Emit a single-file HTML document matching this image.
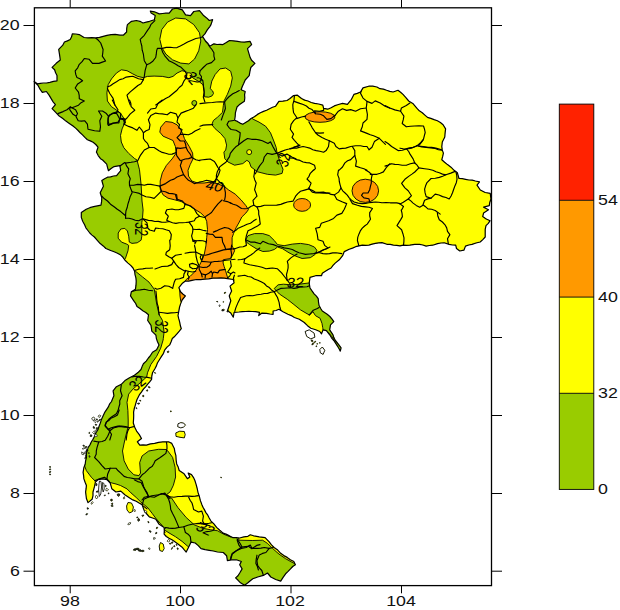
<!DOCTYPE html>
<html><head><meta charset="utf-8"><title>map</title>
<style>
html,body{margin:0;padding:0;background:#fff;}
body{width:620px;height:610px;position:relative;overflow:hidden;font-family:"Liberation Sans",sans-serif;}
.t{position:absolute;font-family:"Liberation Sans",sans-serif;font-size:14px;line-height:15px;height:15px;color:#111;transform:scaleX(1.27);white-space:nowrap;}
</style></head><body>
<svg width="620" height="610" viewBox="0 0 620 610" style="position:absolute;left:0;top:0"><defs><clipPath id="c"><path d="M34.1,81.6 L37.4,83.8 L46.4,83.0 L57.0,80.8 L57.0,75.6 L54.6,69.8 L52.1,67.4 L56.2,63.3 L60.3,60.0 L59.5,54.3 L58.7,49.3 L62.8,45.2 L64.4,42.0 L70.2,39.5 L72.3,33.8 L79.2,34.6 L84.1,37.5 L95.6,37.9 L107.0,35.4 L115.2,34.3 L120.0,35.2 L123.3,35.2 L126.6,32.0 L127.4,24.6 L131.5,21.3 L136.4,20.5 L143.0,23.0 L149.5,21.3 L154.4,19.7 L155.2,15.6 L151.1,13.1 L150.3,11.1 L154.4,11.8 L159.3,13.9 L169.2,13.1 L172.5,9.0 L176.6,8.2 L182.3,9.8 L185.6,14.8 L190.5,15.6 L193.8,11.5 L199.5,10.7 L203.6,15.6 L209.3,20.5 L212.6,19.7 L211.0,24.6 L209.8,26.6 L204.9,33.9 L202.5,36.4 L205.7,41.3 L209.8,46.2 L213.9,43.8 L223.0,44.6 L229.5,40.5 L237.7,41.3 L244.3,42.1 L250.0,41.3 L251.6,44.6 L247.5,48.7 L249.2,54.4 L251.6,60.2 L254.9,63.4 L250.8,67.5 L249.2,75.7 L245.2,80.0 L241.1,89.8 L245.2,91.5 L244.4,101.3 L237.0,107.0 L235.4,112.8 L234.6,120.2 L242.8,124.3 L251.0,118.5 L257.5,114.4 L266.6,110.3 L275.6,106.2 L278.9,101.3 L287.0,100.5 L290.0,98.5 L293.3,95.7 L297.4,95.2 L301.5,98.5 L308.0,101.0 L314.6,103.4 L322.8,105.1 L323.6,108.4 L327.7,109.2 L334.3,105.9 L342.5,103.4 L347.4,104.3 L351.5,99.3 L353.9,94.4 L360.5,92.0 L363.0,87.9 L368.7,86.2 L376.9,87.0 L380.0,88.7 L386.6,90.3 L393.1,92.0 L398.0,90.3 L403.0,94.4 L408.7,101.0 L412.8,103.4 L419.3,110.8 L427.5,117.4 L437.4,120.7 L443.1,124.8 L445.6,128.9 L444.8,137.0 L442.3,142.0 L441.8,146.6 L443.4,153.1 L441.8,159.7 L447.5,164.6 L454.1,170.3 L457.4,172.8 L459.0,178.5 L465.6,179.3 L475.4,181.0 L479.5,181.8 L477.0,185.1 L480.3,190.0 L485.2,192.5 L490.2,193.3 L491.0,199.0 L489.3,205.6 L483.6,207.2 L488.5,209.7 L483.6,213.0 L482.7,216.6 L490.1,220.7 L486.0,225.6 L485.2,233.0 L485.2,237.0 L480.2,242.0 L472.0,244.4 L465.5,246.1 L463.9,250.2 L459.8,251.0 L456.5,248.5 L455.7,245.2 L449.1,244.4 L444.2,242.8 L437.6,243.6 L432.7,245.2 L426.1,246.1 L419.6,244.4 L414.7,244.4 L409.8,245.2 L403.2,245.2 L400.0,245.9 L393.4,245.1 L386.9,244.3 L382.0,242.6 L375.4,243.4 L368.9,245.1 L362.3,245.1 L355.7,246.7 L349.2,249.2 L344.3,251.6 L342.6,255.7 L339.3,259.8 L335.2,263.1 L331.1,268.0 L325.4,271.3 L322.3,273.3 L321.5,275.7 L315.7,275.7 L310.0,277.4 L309.2,283.1 L310.0,288.0 L314.1,293.8 L318.2,298.7 L319.0,305.2 L322.3,311.0 L327.2,314.3 L332.1,319.2 L333.8,321.6 L330.5,324.9 L329.7,329.8 L333.0,334.8 L335.4,340.5 L338.7,344.6 L341.1,347.9 L340.3,351.1 L337.0,345.4 L333.8,340.5 L329.7,334.8 L326.4,330.7 L323.1,329.8 L321.5,333.9 L319.8,331.5 L315.7,329.8 L310.8,328.2 L307.5,325.7 L304.3,322.5 L299.3,319.2 L294.4,317.5 L287.9,314.3 L283.0,311.8 L278.9,309.3 L273.1,311.0 L273.1,314.3 L266.6,313.4 L262.0,313.1 L258.7,315.6 L259.5,312.3 L252.1,311.5 L245.6,311.5 L239.0,312.0 L234.1,312.3 L233.3,317.2 L230.8,313.1 L227.5,310.7 L229.2,305.7 L230.8,300.8 L229.2,295.9 L231.6,291.0 L230.0,286.1 L234.1,282.8 L233.3,279.5 L227.5,278.7 L221.0,277.9 L212.8,278.2 L204.6,279.2 L196.4,279.5 L192.0,280.3 L185.4,281.1 L182.1,283.6 L178.9,287.7 L180.5,291.8 L185.4,295.9 L182.1,300.0 L180.5,304.1 L178.9,310.7 L178.0,315.6 L179.7,322.1 L181.3,328.7 L177.2,333.6 L172.3,338.5 L169.7,344.9 L164.8,349.8 L161.5,356.4 L157.4,363.0 L154.9,368.7 L152.5,372.8 L151.6,379.3 L147.5,384.3 L143.4,389.2 L139.3,394.9 L136.9,399.8 L135.2,405.6 L133.6,412.1 L133.6,418.7 L133.3,423.0 L136.6,431.1 L141.5,438.5 L137.4,441.8 L139.8,445.1 L146.4,445.1 L154.6,443.4 L162.8,441.8 L168.5,441.8 L171.8,443.4 L174.3,448.4 L175.9,455.7 L176.7,463.9 L179.2,470.5 L184.1,473.8 L187.4,478.7 L189.8,477.0 L188.2,473.0 L191.5,474.6 L194.8,480.3 L197.2,488.5 L199.3,496.2 L201.8,504.4 L205.9,512.6 L210.8,520.8 L216.6,527.4 L223.1,533.1 L226.6,534.4 L233.1,537.7 L239.7,538.0 L247.9,536.3 L250.3,534.8 L253.6,535.8 L259.3,536.9 L265.1,537.7 L269.2,541.8 L274.1,547.5 L280.7,553.3 L287.2,557.4 L293.8,561.5 L295.4,564.8 L290.5,568.9 L285.6,573.8 L280.7,581.1 L275.7,579.5 L270.8,577.0 L267.5,573.0 L263.4,575.4 L257.7,577.0 L252.8,578.7 L247.9,582.8 L244.6,585.2 L240.5,582.8 L235.6,577.9 L239.7,573.0 L242.1,568.9 L239.7,564.8 L241.3,561.5 L236.4,559.8 L231.5,559.8 L227.4,560.7 L226.6,555.7 L223.3,552.5 L217.4,552.0 L209.2,550.3 L201.0,548.7 L195.2,543.0 L191.1,542.1 L188.7,547.0 L186.2,552.1 L182.1,547.2 L175.6,542.3 L169.0,538.2 L164.1,534.1 L164.1,527.5 L159.2,524.3 L155.9,519.3 L149.3,516.9 L144.4,511.1 L142.0,504.6 L136.2,501.3 L129.7,498.0 L124.8,494.8 L120.8,491.1 L115.9,492.0 L111.8,488.7 L110.2,483.0 L106.9,479.7 L102.8,478.9 L97.9,479.7 L95.4,482.1 L94.6,486.2 L93.0,492.0 L92.1,499.3 L88.0,502.6 L86.4,498.5 L85.6,492.0 L86.4,485.4 L83.9,478.9 L83.1,472.3 L83.9,467.4 L85.6,460.8 L86.4,454.3 L88.0,447.7 L91.3,442.0 L94.6,436.2 L97.9,429.7 L100.3,423.1 L102.8,416.6 L104.9,412.1 L108.2,407.2 L111.5,401.5 L113.9,395.7 L113.1,390.8 L116.4,386.7 L121.3,384.3 L125.4,380.2 L129.5,377.7 L134.4,375.2 L141.0,369.5 L143.4,363.8 L148.4,358.0 L152.5,352.3 L156.6,349.8 L159.0,344.9 L157.5,341.8 L155.9,335.2 L151.8,331.1 L151.0,325.4 L147.7,320.5 L148.5,314.8 L142.8,310.7 L137.0,306.6 L133.8,300.8 L130.5,295.9 L131.3,291.8 L135.4,289.3 L136.2,281.1 L134.6,271.3 L133.0,268.0 L128.0,263.1 L124.8,260.0 L120.7,255.1 L114.1,251.8 L105.9,248.5 L100.2,243.6 L94.4,237.0 L87.9,230.5 L84.6,224.8 L81.3,217.4 L81.3,212.5 L86.2,209.2 L93.6,206.7 L101.0,205.1 L101.8,197.7 L100.2,192.8 L103.4,186.2 L101.8,180.5 L107.5,177.2 L116.6,175.6 L120.7,170.7 L119.8,165.7 L114.1,166.6 L108.4,170.7 L106.7,164.1 L102.6,160.0 L100.5,158.7 L96.4,152.1 L98.0,147.2 L93.1,142.3 L87.4,139.8 L82.5,134.9 L75.9,128.4 L69.3,123.4 L62.8,118.5 L56.2,112.8 L52.1,108.7 L55.4,104.6 L51.3,98.9 L46.4,91.5 L42.3,92.3 L38.2,85.7ZM305.1,331.5 L309.2,329.8 L314.1,333.1 L314.9,337.2 L310.8,338.9 L306.7,336.4ZM319.8,349.5 L322.3,347.0 L324.8,350.3 L323.1,354.4 L320.3,352.8ZM313.1,341.3 L312.0,341.5 L311.0,340.9 L311.3,340.1 L311.9,339.7 L312.6,340.3ZM314.5,342.8 L314.5,341.8 L315.1,341.3 L315.8,341.3 L315.3,342.2ZM317.2,344.4 L316.8,343.8 L317.3,343.2 L317.6,343.8ZM311.8,344.9 L312.2,343.6 L313.3,342.6 L313.7,343.7 L313.1,344.6ZM319.9,343.5 L319.5,342.7 L319.8,342.2 L320.2,342.6ZM316.8,346.6 L316.1,346.7 L315.8,346.1 L316.5,345.7ZM185.5,425.2 L183.5,427.1 L180.8,427.9 L177.7,426.7 L178.0,423.8 L180.8,422.6 L183.7,423.1ZM185.2,434.7 L184.3,437.9 L180.0,437.3 L176.0,436.4 L175.8,432.9 L179.7,431.2 L184.3,431.5ZM170.6,411.7 L170.0,411.4 L170.6,410.9 L171.0,410.8 L171.5,411.2 L171.1,411.7ZM221.6,477.9 L220.9,477.7 L220.5,477.1 L221.3,477.2ZM160.5,542.5 L163.2,544.0 L164.2,548.5 L162.5,551.5 L159.8,550.5 L159.2,546.0ZM128.0,502.5 L131.5,503.0 L133.4,507.0 L132.5,511.5 L129.5,513.0 L127.0,510.0 L126.6,506.0ZM136.5,549.5 L135.6,550.5 L133.3,550.2 L133.8,549.0 L135.5,548.6ZM139.4,549.0 L138.0,549.9 L136.2,549.5 L136.0,548.4 L138.1,548.0ZM141.5,550.5 L140.6,551.5 L138.5,551.1 L138.4,549.9 L140.5,549.6ZM144.3,551.0 L143.0,551.8 L141.3,551.5 L141.3,550.5 L143.1,550.0ZM225.3,293.2 L224.3,293.6 L224.4,292.6 L225.0,292.1 L225.8,292.4ZM218.1,301.9 L217.0,302.0 L216.5,301.5 L217.2,301.3ZM223.1,302.4 L222.9,301.8 L223.4,301.5 L223.7,301.7 L223.6,302.1ZM220.2,306.0 L219.6,306.6 L219.0,306.1 L219.0,305.1 L220.0,304.9ZM223.6,310.9 L221.9,311.0 L221.9,309.7 L223.4,309.2 L224.5,309.7ZM228.4,311.7 L227.9,312.1 L227.2,312.0 L226.8,311.3 L227.5,310.8 L228.6,310.7ZM49.6,467.3 L49.5,466.6 L50.4,466.6 L50.9,466.9 L50.1,467.6ZM49.6,469.9 L49.5,469.1 L50.3,468.7 L50.7,469.5 L50.3,469.9ZM49.7,472.7 L49.3,471.9 L50.1,471.3 L50.8,471.5 L50.4,472.4ZM49.5,474.7 L49.8,473.8 L50.7,474.3 L50.3,475.0ZM92.0,419.6 L91.8,418.0 L93.9,416.9 L95.1,419.0 L93.3,420.4ZM96.1,421.5 L95.4,422.8 L94.1,421.5 L93.6,420.1 L95.9,420.2ZM96.4,419.7 L96.3,418.9 L97.3,418.9 L97.3,420.0ZM97.4,422.3 L97.3,421.0 L98.5,420.6 L98.4,421.7ZM95.2,424.9 L95.3,424.1 L96.2,424.4 L96.9,424.6 L96.5,425.3 L95.7,425.3ZM94.3,428.6 L93.1,427.9 L93.4,426.3 L94.7,427.2ZM96.2,428.4 L96.4,427.7 L97.3,427.4 L97.7,428.0 L97.6,428.8 L96.5,429.5ZM96.3,431.6 L94.8,430.9 L95.9,429.8 L96.8,430.5ZM94.1,434.0 L92.6,432.5 L93.8,431.3 L95.1,432.3ZM95.8,436.7 L94.5,436.0 L95.2,434.2 L96.7,434.4 L97.3,436.2ZM91.7,436.5 L90.1,436.4 L90.4,434.8 L92.0,435.1ZM89.3,433.6 L88.6,432.9 L89.4,432.2 L90.0,433.0ZM100.0,417.2 L98.8,417.2 L98.1,416.2 L99.2,414.9 L100.8,415.6ZM99.1,420.9 L99.5,419.4 L100.4,419.1 L100.4,420.1ZM84.6,446.2 L83.9,446.5 L83.2,446.1 L82.8,445.4 L83.5,445.1 L84.3,445.4ZM86.3,447.4 L85.7,447.8 L85.1,447.4 L85.5,446.7 L86.1,446.0 L86.7,446.7ZM82.2,449.0 L83.1,448.0 L85.1,447.9 L83.5,449.1ZM85.8,452.5 L86.0,451.1 L86.5,449.7 L87.1,450.2 L86.9,451.7ZM83.9,453.5 L84.3,452.1 L86.0,452.0 L85.7,454.1ZM88.2,453.0 L89.1,452.6 L89.5,453.0 L89.1,453.7ZM86.7,456.4 L85.7,456.8 L85.3,455.8 L85.7,455.2 L86.6,455.5ZM83.4,454.8 L81.9,454.4 L81.6,451.9 L83.7,453.2ZM90.1,457.1 L89.3,457.3 L89.0,456.3 L89.3,455.4 L90.1,456.5ZM84.8,458.6 L84.8,457.7 L85.9,457.3 L85.6,458.3ZM87.3,448.9 L86.2,449.2 L85.8,448.4 L86.4,447.6 L87.5,447.0 L88.1,447.9ZM87.0,451.2 L87.2,450.1 L88.1,449.9 L87.9,450.8ZM99.5,481.0 L101.0,481.5 L101.5,487.0 L100.8,494.0 L99.3,496.5 L98.6,490.0 L99.0,484.0ZM102.5,482.5 L104.0,483.5 L104.2,489.0 L103.2,492.0 L102.3,488.0ZM96.7,485.7 L95.8,485.4 L95.8,484.3 L96.1,483.5 L96.9,483.7 L97.1,484.9ZM96.0,492.1 L96.9,490.9 L98.3,491.0 L97.5,492.2ZM105.6,486.7 L104.9,486.1 L105.5,485.2 L106.1,485.5 L106.2,486.2ZM107.4,490.8 L105.9,490.7 L105.9,489.4 L106.5,488.2 L107.7,488.9 L108.5,489.8ZM105.3,495.6 L104.6,495.8 L104.1,495.5 L104.6,495.0 L105.1,494.8ZM108.2,494.0 L108.1,493.2 L108.9,492.8 L109.1,493.7ZM96.5,499.0 L95.2,497.1 L96.2,495.1 L98.1,496.9ZM91.0,503.9 L91.1,503.0 L92.5,501.6 L93.2,502.4 L91.9,504.2ZM88.5,508.9 L87.3,509.2 L87.1,507.7 L88.3,508.0ZM85.8,515.0 L86.2,513.9 L86.8,513.5 L87.7,513.7 L87.0,514.8ZM112.3,500.7 L111.1,501.2 L110.6,500.3 L110.9,499.1 L112.2,499.2ZM113.3,506.0 L112.5,506.5 L111.3,506.3 L111.2,505.4 L111.7,504.7 L112.6,505.4ZM112.6,504.4 L111.9,504.2 L111.4,503.7 L111.9,503.2 L112.6,502.9 L112.7,503.7ZM127.8,524.6 L128.0,523.7 L129.1,522.8 L130.7,522.6 L130.4,524.0 L128.8,524.7ZM136.8,517.9 L136.9,516.9 L137.8,516.9 L137.9,517.8ZM138.5,521.4 L137.5,520.0 L138.7,518.2 L139.8,520.1ZM149.0,522.9 L148.0,522.5 L147.8,521.5 L148.9,521.8ZM150.8,532.4 L149.9,532.1 L149.1,531.1 L149.7,530.5 L150.4,530.8 L151.1,531.6ZM157.2,528.4 L156.4,528.7 L156.3,528.0 L156.6,527.3 L157.7,527.2 L157.6,527.9ZM155.5,533.9 L155.9,532.4 L156.9,532.4 L156.9,533.3ZM154.9,539.1 L153.5,539.3 L153.7,537.5 L155.4,537.9ZM150.1,549.1 L149.2,549.5 L148.3,548.3 L149.1,547.8 L150.0,548.3ZM145.8,512.5 L144.6,512.4 L144.5,510.9 L145.7,510.6 L146.6,511.0 L147.0,512.3ZM141.8,515.8 L142.6,514.9 L143.9,515.1 L143.5,515.9 L142.6,516.6ZM134.1,511.4 L133.8,510.5 L134.4,509.4 L135.1,509.7 L135.3,511.3ZM123.8,499.1 L123.1,498.0 L124.4,496.6 L124.8,498.4ZM118.7,496.5 L117.5,495.6 L117.1,494.2 L118.5,493.8 L119.8,494.0 L119.6,495.3ZM168.5,541.9 L167.2,541.3 L167.7,540.1 L168.5,539.5 L169.5,539.9 L169.8,541.2ZM170.3,544.2 L169.5,543.9 L169.5,543.2 L170.2,543.1 L170.7,543.2 L170.9,543.7ZM172.8,543.0 L171.9,543.4 L171.4,543.1 L171.6,542.2 L172.5,541.7 L172.9,542.1ZM174.7,546.7 L173.9,546.8 L173.6,546.0 L174.4,545.5 L175.1,546.0ZM176.9,545.7 L176.1,544.8 L176.3,544.1 L176.9,544.5ZM177.1,548.7 L177.3,547.8 L177.9,548.0 L178.4,549.1 L177.6,549.6ZM171.3,549.5 L171.6,547.9 L172.6,547.1 L172.6,548.5ZM146.9,391.2 L146.3,390.4 L147.5,389.7 L147.8,390.9ZM142.5,396.0 L142.9,395.2 L143.8,395.4 L143.8,396.0 L143.8,396.7 L142.9,396.7ZM140.8,401.2 L140.1,400.9 L139.5,400.2 L140.0,400.0 L140.7,400.4ZM138.4,404.2 L137.3,403.6 L138.2,403.0 L139.6,403.1 L139.2,404.1ZM136.8,409.1 L136.1,408.4 L136.3,407.4 L136.8,408.2ZM150.2,387.8 L148.9,387.8 L148.1,386.7 L149.5,386.7ZM154.8,373.2 L154.3,372.6 L155.1,372.5 L155.7,373.3ZM167.5,352.6 L167.2,351.6 L168.3,351.0 L169.1,351.7 L168.3,352.6Z"/></clipPath></defs><g clip-path="url(#c)" stroke="#000" stroke-width="0.9" stroke-linejoin="round"><rect x="30" y="0" width="470" height="600" fill="#99cc00" stroke="none"/><path d="M124.0,260.0 L125.4,258.5 L128.0,250.7 L128.7,245.4 L126.7,244.1 L121.5,242.1 L118.2,238.2 L118.2,233.0 L120.8,229.0 L124.8,228.4 L127.4,231.0 L128.7,236.2 L129.3,242.1 L132.0,243.4 L137.2,242.8 L141.1,240.2 L141.8,236.2 L141.8,222.5 L142.5,217.9 L143.1,210.0 L142.0,201.0 L141.1,184.6 L139.5,169.8 L137.0,160.0 L134.4,158.4 L128.7,153.4 L123.8,147.7 L121.3,142.0 L120.5,135.4 L122.1,128.9 L124.6,123.1 L123.8,118.2 L120.5,113.3 L116.4,110.0 L111.5,106.7 L107.4,101.0 L106.9,92.8 L108.2,84.6 L111.5,78.9 L116.4,73.1 L121.3,69.8 L127.0,70.7 L132.8,73.9 L137.7,76.4 L143.4,77.7 L147.5,76.4 L154.1,76.1 L162.3,76.4 L168.9,77.7 L173.0,76.4 L177.0,73.1 L182.0,70.7 L185.2,71.5 L187.3,72.6 L193.0,78.0 L199.6,82.0 L203.3,85.0 L204.1,89.4 L204.5,96.8 L208.6,97.2 L211.9,96.0 L213.5,93.5 L212.7,91.0 L210.2,88.6 L211.8,81.1 L215.1,74.6 L220.0,68.9 L225.7,68.0 L230.7,71.3 L232.3,77.9 L230.7,86.1 L227.4,94.3 L224.1,100.8 L223.3,105.7 L222.5,112.3 L217.5,117.2 L213.4,120.5 L211.8,124.6 L215.1,128.7 L220.8,133.6 L224.9,138.5 L226.6,145.1 L225.7,150.0 L223.9,152.1 L224.8,158.7 L228.0,162.0 L234.6,165.2 L242.8,163.6 L246.9,160.3 L249.3,162.0 L251.0,166.9 L257.5,171.8 L267.4,174.3 L275.6,175.1 L282.1,173.4 L283.0,169.3 L280.0,162.0 L277.0,152.5 L276.2,147.5 L273.8,141.0 L270.5,132.8 L265.6,126.2 L259.0,122.1 L252.5,118.9 L250.0,112.0 L262.0,100.0 L300.0,80.0 L460.0,80.0 L520.0,200.0 L500.0,300.0 L350.0,340.0 L350.0,360.0 L250.0,345.0 L215.0,300.0 L200.0,340.0 L230.0,420.0 L260.0,520.0 L235.0,536.0 L230.5,536.9 L223.9,534.3 L217.4,530.7 L210.8,529.8 L202.6,528.2 L194.4,524.9 L186.2,517.5 L178.0,507.7 L171.5,497.9 L166.6,494.6 L170.2,491.8 L173.4,485.2 L175.6,477.0 L175.1,467.2 L172.6,457.4 L167.7,450.8 L166.1,449.5 L158.5,449.3 L148.7,451.0 L142.1,455.9 L139.7,462.5 L140.5,473.1 L138.9,475.6 L133.9,474.8 L128.2,469.0 L124.1,460.8 L122.5,451.0 L124.9,439.5 L128.2,426.4 L128.2,420.0 L127.9,410.5 L127.0,402.3 L128.7,394.1 L132.8,389.2 L140.0,383.0 L146.7,376.9 L147.5,372.8 L150.8,364.6 L156.6,356.4 L160.7,348.2 L163.1,340.0 L163.3,338.5 L164.1,332.0 L162.5,320.5 L159.2,314.8 L156.7,304.1 L154.3,289.3 L149.0,282.1 L142.5,276.9 L135.2,271.0 L131.0,270.0Z" fill="#ffff00"/><path d="M78.0,462.0 L83.9,464.1 L86.4,470.7 L91.3,477.2 L94.6,480.5 L98.0,482.0 L98.0,506.0 L78.0,506.0Z" fill="#ffff00"/><path d="M107.0,479.0 L110.0,482.5 L116.0,484.0 L120.5,485.5 L127.0,488.9 L131.0,492.9 L136.2,497.5 L140.8,502.0 L144.1,504.7 L148.0,508.0 L152.0,513.2 L155.9,518.4 L159.8,523.0 L162.5,525.7 L160.0,532.0 L105.0,500.0Z" fill="#ffff00"/><path d="M162.0,527.0 L163.8,529.6 L169.0,532.9 L175.6,536.8 L182.1,541.4 L187.4,546.0 L190.0,548.0 L188.0,556.0 L160.0,540.0Z" fill="#ffff00"/><path d="M238.9,540.2 L252.8,540.5 L262.6,540.2 L267.5,543.4 L272.5,548.4 L279.0,554.1 L285.6,558.7 L292.1,562.3 L295.1,563.9 L300.0,562.0 L270.0,530.0 L238.0,530.0Z" fill="#ffff00"/><path d="M159.8,39.3 L161.8,29.5 L167.5,22.1 L175.7,18.0 L185.6,18.9 L193.8,24.6 L199.5,32.8 L200.8,41.0 L198.7,50.8 L194.6,59.0 L188.9,63.9 L180.7,63.1 L172.5,59.8 L165.9,54.1 L161.8,47.5Z" fill="#ffff00"/><path d="M245.6,239.7 L248.0,235.6 L254.6,233.6 L262.8,233.6 L269.3,235.6 L274.3,240.5 L277.5,244.6 L284.1,245.7 L292.3,244.1 L300.5,243.4 L308.7,244.6 L314.4,247.0 L316.9,250.3 L315.2,254.4 L310.3,257.7 L302.1,258.5 L295.6,256.1 L289.0,252.8 L282.5,248.7 L277.5,247.0 L274.3,249.5 L269.3,251.1 L262.8,251.5 L256.2,248.7 L249.7,244.6 L246.4,242.1Z" fill="#99cc00"/><path d="M274.2,288.5 L278.1,284.8 L283.4,284.2 L291.2,284.8 L299.1,284.2 L309.6,282.9 L316.0,283.0 L328.0,300.0 L340.0,318.0 L345.0,352.0 L338.0,352.0 L333.0,338.0 L328.9,333.1 L325.6,331.0 L323.4,331.4 L322.7,327.5 L322.0,323.5 L320.1,318.3 L315.5,315.7 L312.9,311.7 L309.6,315.0 L307.0,313.7 L300.4,309.8 L293.9,304.5 L287.3,299.3 L279.4,294.0Z" fill="#99cc00"/><path d="M165.6,121.5 L160.7,127.2 L159.8,132.1 L163.1,136.2 L168.9,138.7 L173.0,140.5 L175.4,146.6 L176.2,153.1 L172.1,158.9 L166.4,165.4 L162.3,172.8 L160.2,181.0 L160.2,189.2 L163.1,194.9 L168.0,198.2 L174.6,199.8 L181.1,201.5 L187.7,204.8 L194.3,208.9 L200.8,213.0 L204.9,217.0 L206.7,221.3 L207.5,229.5 L206.7,237.7 L205.9,245.9 L204.3,254.1 L201.8,260.7 L199.3,265.6 L195.2,271.3 L190.3,276.2 L186.2,279.5 L184.0,283.0 L228.0,283.0 L228.0,278.7 L227.2,276.2 L225.5,270.5 L224.1,266.4 L223.1,263.0 L223.3,259.7 L230.5,258.5 L232.4,255.6 L234.6,250.8 L232.1,245.9 L232.1,237.7 L233.6,233.4 L236.1,227.7 L239.3,222.0 L241.8,217.0 L245.9,213.0 L248.4,209.7 L245.9,205.6 L241.0,199.8 L235.2,194.1 L228.7,190.0 L224.6,186.7 L217.0,183.5 L209.0,182.3 L204.1,183.0 L197.5,183.0 L191.8,181.0 L188.5,176.1 L188.0,170.3 L190.2,164.6 L193.0,158.9 L192.6,153.1 L189.3,146.6 L185.2,140.0 L184.4,138.5 L182.8,133.8 L180.3,128.9 L177.0,124.8 L172.1,122.3Z" fill="#ff9900"/><path d="M179.7,290.0 L180.0,296.0 L180.8,301.5 L190.0,301.5 L190.0,290.0Z" fill="#ff9900"/><ellipse cx="320" cy="117" rx="15" ry="5.3" fill="#ff9900"/><ellipse cx="365.3" cy="190.8" rx="13.3" ry="11.6" fill="#ff9900"/><ellipse cx="302.1" cy="204.9" rx="8.5" ry="6.4" fill="#ff9900"/><circle cx="188.9" cy="75.7" r="3" fill="#ffff00"/><circle cx="194.3" cy="103" r="2.5" fill="#99cc00"/><circle cx="249.2" cy="152.1" r="2.5" fill="#ffff00"/></g><g clip-path="url(#c)" fill="none" stroke="#000" stroke-width="1.15" stroke-linejoin="round" stroke-linecap="round"><path d="M95.7,38.0 L98.4,40.3 L100.7,43.0 L101.9,46.3 L103.1,49.5 L102.8,52.8 L102.3,56.1 L105.6,61.0 L102.3,62.1 L99.0,63.4 L95.8,63.3 L92.5,63.4 L89.2,59.3 L84.3,58.5 L82.1,61.7 L79.3,64.3 L77.7,67.8 L75.2,70.8 L75.7,74.2 L76.9,77.4 L79.9,78.8 L82.6,80.7 L77.7,83.9 L75.2,88.0 L78.5,92.1 L79.2,95.4 L79.3,98.7 L84.3,101.1 L81.1,102.7 L78.5,105.2 L75.3,106.5 L72.0,107.7 L70.3,107.0"/><path d="M70.3,107.0 L69.7,109.7 L73.0,114.3 L76.2,116.2 L77.5,113.6 L75.6,109.7 L70.3,107.0"/><path d="M70.3,107.0 L67.0,109.7 L63.1,111.6 L57.9,113.6"/><path d="M76.2,116.9 L78.2,120.8 L81.5,121.1 L84.8,120.8 L87.4,124.1 L88.0,129.3 L91.3,130.0 L94.6,130.7 L99.8,131.3 L100.5,126.7 L99.8,120.8 L101.8,116.2 L98.5,111.0 L102.5,111.0 L106.4,113.6 L108.4,116.2 L107.9,120.1 L107.7,124.1 L108.4,125.4 L113.0,123.4 L118.2,122.1 L120.2,118.2 L124.8,118.9 L125.4,122.8 L123.5,124.1"/><path d="M108.4,116.2 L113.0,113.0 L118.2,111.6 L120.8,113.6 L120.2,118.2"/><path d="M154.9,20.6 L150.8,24.7 L149.5,27.7 L147.5,30.4 L144.3,35.3 L140.2,39.4 L140.9,42.7 L141.8,46.0 L142.2,50.2 L143.4,54.2 L143.8,57.5 L144.3,60.7 L146.7,64.8 L145.1,70.6 L144.3,76.3 L143.4,79.6"/><path d="M146.7,64.8 L149.7,63.4 L152.5,61.6 L155.7,57.5 L156.3,54.2 L156.6,50.9 L157.4,48.4 L162.3,48.4 L166.3,47.4 L170.5,47.3 L173.7,47.7 L177.0,47.6 L180.3,46.0 L183.6,44.3 L187.6,42.1 L191.8,40.2 L195.8,38.5 L200.0,37.8 L205.2,36.0"/><path d="M161.5,48.9 L162.8,52.5 L164.8,55.8 L168.9,60.7 L172.2,62.3 L175.4,64.0 L178.1,65.8 L181.1,67.3 L185.2,71.4 L186.9,74.7 L186.1,78.0 L189.3,78.8"/><path d="M107.4,87.0 L110.4,85.7 L113.1,83.7 L116.5,81.8 L119.7,79.6 L123.1,78.7 L126.2,77.1 L129.5,76.6 L132.8,76.3 L138.5,78.8 L143.4,79.6"/><path d="M143.4,79.6 L141.0,83.7 L137.9,85.5 L135.2,87.8 L130.3,91.9 L127.0,95.2 L128.7,100.9 L130.3,105.0"/><path d="M107.4,88.6 L109.8,93.5 L113.1,98.4 L114.0,101.7 L114.8,105.0"/><path d="M186.1,78.0 L183.7,81.4 L182.0,85.3 L179.2,87.5 L177.0,90.2 L172.1,94.3 L169.1,96.7 L165.6,98.4 L160.7,101.7 L155.7,105.0"/><path d="M205.7,41.3 L208.0,43.9 L209.8,47.0 L212.1,49.7 L213.9,52.8 L213.9,56.1 L214.8,59.3 L211.5,62.6 L206.6,64.3 L203.3,67.5 L200.0,70.8"/><path d="M200.0,103.6 L204.1,103.1 L208.2,102.8 L212.3,102.5 L216.4,102.0 L220.5,101.8 L224.6,102.0 L225.0,105.3 L225.4,108.5 L224.3,111.8 L223.0,115.1 L221.3,120.0"/><path d="M224.6,102.0 L226.5,99.4 L228.7,97.0 L232.8,93.8 L236.1,92.2 L239.3,90.5"/><path d="M203.3,85.6 L203.6,88.9 L204.1,92.1 L203.3,97.0 L204.9,102.0"/><path d="M132.1,192.8 L130.1,196.8 L128.9,201.0 L127.9,204.2 L127.2,207.5 L126.0,210.7 L125.6,214.1 L125.6,218.2"/><path d="M120.0,166.0 L124.8,162.5"/><path d="M101.8,196.1 L104.4,198.8 L107.5,201.0 L110.5,204.2 L114.1,206.7 L117.3,209.3 L120.7,211.6 L125.6,215.7"/><path d="M125.6,218.2 L128.9,218.3 L132.1,219.0 L135.3,220.2 L138.7,220.7 L142.0,219.0"/><path d="M112.3,100.0 L114.8,104.9 L118.0,109.8 L116.4,113.1 L113.0,113.5 L109.8,114.8 L108.2,118.0 L108.2,121.4 L109.0,124.6 L113.1,123.0 L118.9,123.0 L119.7,118.9 L118.1,115.9 L116.4,113.1"/><path d="M119.7,118.9 L123.8,119.7 L124.6,124.6 L128.6,126.4 L132.8,127.9 L136.9,130.3 L139.3,127.0 L141.6,129.8 L143.4,132.8 L143.4,138.5 L145.2,141.2 L147.5,143.4 L149.2,147.5 L144.3,150.0 L142.2,152.8 L140.2,155.7 L137.7,160.7 L134.5,161.7 L131.1,162.3 L125.4,163.1"/><path d="M129.5,100.0 L130.8,103.2 L131.1,106.6 L134.8,110.2 L130.3,113.9 L127.0,118.0 L124.3,120.5"/><path d="M149.2,147.5 L154.1,147.5 L159.0,150.8 L162.2,152.4 L165.6,153.3 L168.8,154.2 L172.1,154.1 L176.2,152.5"/><path d="M143.4,132.8 L146.1,130.8 L149.2,129.5 L150.0,124.6 L148.4,119.7 L150.8,115.6 L155.7,113.1 L159.0,113.8 L162.3,113.9 L167.2,114.8 L170.5,112.3 L176.2,113.9 L177.9,118.0 L177.0,122.1 L179.5,124.6"/><path d="M147.5,113.1 L150.8,109.0 L155.7,108.2 L158.2,103.3 L162.3,100.0"/><path d="M177.9,118.0 L181.1,113.1 L184.8,111.6 L188.5,110.2 L193.4,108.2 L195.9,104.9"/><path d="M179.5,124.6 L178.7,127.9 L182.0,129.5 L180.3,134.4 L177.0,137.7 L180.3,141.0 L184.4,141.0 L185.6,144.2 L186.1,147.5 L180.3,148.4 L176.7,147.9 L176.2,152.5"/><path d="M180.3,134.4 L184.4,134.4 L188.5,134.8 L191.9,133.2 L195.1,131.1 L200.0,128.7"/><path d="M186.1,147.5 L187.8,151.0 L190.2,154.1 L191.8,157.4 L188.6,158.6 L185.2,159.0 L180.3,160.7 L176.7,155.7 L176.2,152.5"/><path d="M191.8,157.4 L195.9,159.8 L200.0,160.7"/><path d="M182.0,160.7 L180.3,165.6 L182.0,170.5 L183.6,174.6 L180.3,175.7 L177.0,177.0 L174.0,179.1 L170.5,180.3 L165.6,183.6 L159.8,186.1"/><path d="M183.6,174.6 L185.9,177.6 L188.5,180.3 L191.5,181.8 L194.3,183.6 L200.0,182.0"/><path d="M125.4,163.1 L126.7,166.2 L128.7,168.9 L127.9,173.8 L130.3,178.7 L129.4,181.9 L129.5,185.2 L130.7,188.5 L132.0,191.8"/><path d="M129.5,185.2 L133.7,185.3 L137.7,184.4 L141.0,184.6 L144.3,185.2 L147.5,184.4 L150.8,184.4 L155.3,185.3 L159.8,186.1 L161.5,191.0 L165.3,191.8 L168.9,193.4 L172.2,193.6 L175.4,194.3 L177.0,200.0"/><path d="M132.0,191.8 L135.7,192.5 L139.3,193.4 L142.6,195.2 L145.9,196.7 L150.1,197.2 L154.1,198.4 L157.4,195.1 L161.5,191.0"/><path d="M200.0,126.2 L203.2,125.1 L206.6,124.9 L212.8,124.6"/><path d="M233.6,120.5 L228.7,121.3 L227.0,124.6 L228.8,127.3 L231.1,129.5 L236.1,130.3 L240.2,132.8 L239.9,136.5 L239.3,140.2 L238.5,145.1 L235.8,146.8 L233.6,149.2 L230.3,153.3 L229.5,156.6"/><path d="M239.3,144.3 L243.9,140.7 L247.5,138.5 L251.6,139.3 L255.7,139.3 L259.0,139.9 L262.3,140.7 L268.0,143.4 L270.5,141.8 L273.0,146.7 L275.7,151.6 L277.0,153.3"/><path d="M277.0,153.3 L281.1,151.6 L285.2,150.0 L288.9,149.0 L292.6,147.9 L296.4,146.6 L300.0,145.1"/><path d="M277.0,153.3 L272.1,154.4 L267.2,153.3 L264.3,157.0 L263.1,161.5 L259.8,165.6 L258.1,168.4 L256.6,171.3 L255.4,173.8"/><path d="M277.0,153.3 L282.0,156.1 L286.9,154.1 L291.8,157.0 L295.9,158.7"/><path d="M229.5,156.6 L227.7,159.4 L225.9,162.3 L222.7,164.5 L219.7,166.9 L217.2,172.1 L216.4,175.4 L216.4,178.7 L213.9,182.0 L210.2,181.1 L206.6,180.3 L203.3,181.2 L200.0,182.0"/><path d="M216.4,178.7 L220.5,182.8 L224.6,186.1 L224.8,189.4 L225.4,192.6 L225.3,196.3 L224.6,200.0"/><path d="M296.6,118.6 L301.5,117.0 L305.6,116.1"/><path d="M294.1,101.4 L299.8,103.4 L303.2,104.5 L306.4,106.0 L309.0,108.2 L312.1,109.6 L315.4,113.7 L320.3,114.2 L323.6,115.8 L326.9,119.4 L331.0,118.6 L335.1,115.3"/><path d="M315.4,113.7 L314.6,110.7 L319.5,111.2 L323.6,110.4 L323.9,106.3"/><path d="M335.1,115.3 L338.4,111.2 L342.5,108.8 L346.6,110.4 L350.7,109.6 L355.6,111.2 L360.5,108.8 L366.2,108.0 L366.7,104.7 L367.0,101.4 L363.0,98.1 L360.5,93.2 L362.1,88.3"/><path d="M366.2,108.0 L366.8,111.2 L367.4,114.5 L367.0,119.4 L363.0,123.0 L362.2,127.1 L360.5,130.9 L363.8,132.1 L367.0,133.4 L370.3,134.7 L373.6,135.8 L379.3,138.3 L383.4,142.4 L385.4,144.3"/><path d="M367.0,101.4 L372.0,103.4 L375.2,100.9 L380.2,103.0 L385.1,106.3 L390.0,108.3"/><path d="M379.3,138.3 L374.4,141.6 L372.0,147.3 L369.0,149.8 L367.0,146.5 L363.7,146.5 L360.5,145.7 L355.6,145.7 L350.7,146.5 L345.7,148.1 L342.4,148.4 L339.2,148.9 L335.9,146.5 L334.3,143.2 L329.3,140.7 L328.5,146.5 L326.1,150.6 L323.6,152.2 L319.9,151.3 L316.2,150.6 L312.8,149.8 L309.7,148.1 L306.4,147.2 L303.1,146.5 L299.8,147.3 L296.6,148.1 L293.3,148.3 L290.0,148.9"/><path d="M308.9,121.9 L310.6,124.7 L312.1,127.6 L315.4,132.5 L317.9,135.0 L322.0,137.5 L325.6,139.3 L329.3,140.7"/><path d="M316.2,132.9 L319.9,133.1 L323.6,132.9"/><path d="M290.0,158.0 L293.4,158.3 L296.6,159.6 L300.0,160.4 L303.1,162.0 L306.4,162.6 L309.7,162.9 L314.6,165.3 L315.4,168.6 L313.8,170.2"/><path d="M352.3,146.5 L354.8,150.6 L354.8,155.5 L350.7,159.6 L347.6,160.8 L344.9,162.9 L342.5,167.0 L339.2,170.2"/><path d="M354.8,155.5 L356.4,161.2 L355.6,166.1 L360.5,167.8 L363.9,168.8 L367.0,170.2"/><path d="M370.3,174.3 L373.6,174.3 L376.9,174.3 L380.2,173.2 L383.4,171.9 L386.7,167.0 L390.0,163.7"/><path d="M385.0,105.5 L389.9,108.0 L394.8,109.9 L400.6,111.2 L401.4,108.0 L406.3,105.5 L409.9,103.0"/><path d="M400.6,111.2 L403.9,116.1 L403.2,119.9 L402.2,123.5 L406.3,126.8 L410.4,126.3 L414.5,126.0 L419.0,125.8 L423.5,126.0 L424.5,129.2 L425.2,132.5 L424.3,135.8 L423.5,139.1 L421.6,142.1 L419.4,144.8 L416.2,146.2 L412.9,147.3 L409.5,147.9 L406.3,148.9 L402.3,150.2 L398.1,150.6 L394.9,148.5 L391.6,146.5 L388.4,143.8 L385.0,141.6"/><path d="M418.6,146.0 L423.1,146.5 L427.6,147.3 L431.7,147.4 L435.8,148.1 L441.6,149.8"/><path d="M414.5,162.9 L410.3,163.8 L406.3,165.3 L402.2,165.2 L398.1,164.5 L394.8,164.4 L391.6,163.7 L388.3,165.0 L385.0,166.1"/><path d="M400.0,148.2 L403.3,148.8 L406.6,149.0 L408.7,151.5 L410.2,154.4 L413.1,158.9 L414.8,163.0"/><path d="M423.0,140.0 L420.6,142.6 L418.0,144.9 L414.8,146.7 L411.5,148.2 L406.9,149.0"/><path d="M417.2,145.7 L421.7,146.9 L426.2,147.4 L430.7,147.9 L435.2,148.5 L438.4,149.7 L441.8,150.2"/><path d="M414.8,163.0 L417.1,165.2 L418.9,167.9 L424.6,168.7 L428.7,169.3 L432.8,170.3 L436.0,171.7 L439.3,172.8 L442.5,174.1 L445.9,174.8 L450.8,173.1 L455.7,171.1"/><path d="M418.9,167.9 L414.8,172.0 L411.9,174.1 L409.0,176.1 L404.9,179.3 L401.6,183.4 L404.9,187.9 L408.2,190.8 L411.5,195.7 L408.2,199.0 L403.3,202.3 L400.0,203.9"/><path d="M455.7,171.1 L456.7,175.2 L457.0,179.3 L456.3,182.7 L454.9,185.9 L453.7,189.3 L452.5,192.8 L451.1,196.0 L449.2,199.0 L446.0,197.5 L442.6,196.6 L439.0,195.0 L435.2,194.1 L431.1,198.2 L426.2,196.6 L425.1,192.9 L424.6,189.2 L425.6,185.8 L427.0,182.6 L431.1,178.5 L435.3,178.3 L439.3,177.4 L442.7,176.2 L445.9,174.8"/><path d="M431.1,198.2 L427.8,198.9 L424.6,200.2 L423.0,204.8 L425.5,206.7 L427.9,208.9 L431.6,209.3 L435.2,210.5 L440.2,214.1"/><path d="M408.2,199.0 L410.8,200.9 L413.1,203.1 L416.2,205.4 L419.7,207.2 L423.0,205.2"/><path d="M401.2,210.0 L402.0,213.2 L402.4,216.6 L400.7,219.6 L398.8,222.6 L397.0,225.6 L401.6,229.7 L402.9,233.7 L404.0,237.9 L403.9,241.6 L403.5,245.2"/><path d="M437.3,212.5 L437.9,216.3 L439.3,219.8 L442.4,222.0 L445.0,224.8 L446.7,227.9 L447.5,231.3 L449.9,234.6 L447.5,238.7 L448.3,243.6"/><path d="M308.5,188.0 L312.3,192.1 L315.9,193.0 L319.7,193.0 L323.8,193.3 L327.9,193.0 L331.0,194.4 L334.4,194.9 L338.5,192.1 L341.0,188.0 L340.1,184.8 L339.3,181.5 L339.0,178.1 L337.7,174.9 L338.5,170.0"/><path d="M341.0,188.0 L342.7,190.8 L345.1,193.0 L347.3,195.2 L349.2,197.9 L351.5,200.1 L354.1,202.0 L358.1,203.1 L362.3,203.6 L365.6,203.4 L368.9,202.8 L372.1,202.4 L375.4,202.0 L378.7,202.2 L382.0,202.8 L386.1,202.6 L390.2,202.8 L393.5,202.8 L396.8,202.9 L400.0,203.6"/><path d="M334.4,194.9 L336.9,199.5 L342.6,202.0 L346.7,203.6 L344.3,209.3 L341.8,213.4 L336.9,215.1 L333.6,218.4 L328.7,220.8 L325.0,222.0 L321.3,223.3 L319.7,227.4 L315.6,228.2 L317.2,233.9 L318.0,239.7 L323.0,241.3 L324.6,245.4 L327.9,247.9 L323.0,250.3 L319.7,251.8 L316.4,252.8"/><path d="M350.0,199.5 L352.5,203.6 L357.4,205.2 L361.4,206.4 L365.6,206.9 L369.1,207.3 L372.5,208.5 L369.7,212.6 L369.7,216.0 L370.5,219.2 L367.2,224.1 L364.6,226.0 L362.3,228.2 L360.3,230.9 L359.0,233.9 L357.8,237.1 L357.4,240.5 L359.0,246.2"/><path d="M372.1,174.9 L371.3,179.0 L371.3,183.1 L370.4,186.4 L369.7,189.7 L368.0,193.0 L363.1,193.0 L361.5,195.4 L363.9,197.9 L368.9,198.7 L369.7,202.0"/><path d="M365.6,170.0 L368.9,172.0 L372.1,174.9"/><path d="M316.4,252.8 L319.7,252.7 L323.0,253.6 L326.2,253.9 L329.5,253.6 L332.7,252.9 L336.1,252.8 L341.8,253.6"/><path d="M254.6,170.0 L254.4,173.3 L253.8,176.6 L254.8,179.9 L256.2,183.1 L255.4,186.4 L254.6,189.7 L255.9,192.9 L257.0,196.2 L253.0,200.3 L253.8,205.2 L257.0,206.9 L258.7,211.0 L258.7,214.3 L259.5,217.5 L259.8,220.8 L260.3,224.1 L257.5,225.9 L254.6,227.4 L251.4,229.2 L248.0,230.7 L246.4,235.6 L245.6,239.7"/><path d="M257.0,206.9 L260.8,206.4 L264.4,205.2 L268.5,205.2 L272.6,205.2 L276.7,205.1 L280.8,204.4 L284.0,203.1 L287.4,202.0 L293.1,201.1 L295.6,196.2 L297.8,193.6 L300.5,191.3 L304.6,190.1 L308.7,188.9 L311.1,183.1 L307.0,179.0 L309.0,176.3 L310.3,173.3 L313.6,170.0"/><path d="M308.7,188.9 L312.1,190.2 L315.2,192.1 L319.3,192.4 L323.4,192.1 L326.7,193.0 L330.0,193.0"/><path d="M230.0,202.8 L233.2,204.3 L236.6,205.2 L241.5,208.5 L244.8,208.8 L248.0,208.5 L250.7,206.5 L253.8,205.2"/><path d="M256.2,219.2 L253.3,221.1 L250.5,223.3 L247.1,224.2 L243.9,225.7 L238.2,228.2 L235.6,230.6 L232.5,232.3"/><path d="M245.6,239.7 L250.5,242.1 L254.6,242.1 L260.3,243.8 L262.8,241.3 L268.5,243.8 L273.4,244.6 L277.5,246.2 L280.9,246.8 L284.1,247.9 L288.2,248.5 L292.3,249.5 L295.6,251.2 L298.9,252.8 L302.1,253.5 L305.4,254.4 L309.5,254.0 L313.6,253.6 L317.0,252.9 L320.2,251.6 L323.2,249.7 L326.7,248.7 L330.0,247.0"/><path d="M245.6,239.7 L246.4,245.4 L243.2,246.7 L239.8,247.0 L234.1,249.0"/><path d="M176.6,194.6 L177.2,199.2 L182.5,201.1 L185.1,204.4"/><path d="M185.1,204.4 L183.8,208.4 L178.5,209.7 L175.2,209.7 L172.0,209.0 L166.7,209.7 L165.4,213.0 L168.3,216.2 L166.7,220.2 L169.3,221.5"/><path d="M185.1,204.4 L190.3,205.7 L194.3,209.0 L196.9,213.6 L199.5,216.2 L205.4,217.8"/><path d="M143.1,218.9 L148.4,220.4 L151.7,220.6 L154.9,221.5 L158.2,221.4 L161.5,222.1 L165.4,222.3 L169.3,221.5 L172.5,222.8 L175.9,223.4 L179.1,222.7 L182.5,222.8 L185.7,222.5 L189.0,222.1 L194.3,220.8 L195.6,218.2 L199.5,216.2"/><path d="M189.0,222.1 L192.3,226.7 L193.0,229.3 L192.5,232.7 L191.6,235.9 L193.0,241.1 L195.6,242.5"/><path d="M170.7,239.8 L171.3,234.6 L169.3,230.7 L166.0,229.8 L162.8,228.7 L159.2,228.5 L155.6,228.0 L154.3,231.3 L149.7,230.0 L147.7,228.0 L147.0,222.8 L143.1,219.1"/><path d="M193.0,229.3 L196.2,229.5 L199.5,229.3 L202.8,230.2 L206.1,230.9"/><path d="M193.0,241.1 L196.2,240.7 L199.5,240.5 L202.8,240.8 L206.1,241.8"/><path d="M222.0,200.0 L218.0,203.9 L214.8,207.9 L211.5,212.5 L208.6,214.6 L205.6,216.4"/><path d="M223.3,200.7 L227.3,201.6 L231.1,203.3"/><path d="M213.4,232.1 L216.4,230.9 L219.3,229.5 L224.6,227.5 L228.5,228.2 L232.5,230.8"/><path d="M206.2,233.4 L209.5,234.1 L212.8,234.4 L215.4,237.4 L218.7,237.3 L222.0,237.4 L222.6,242.0 L224.6,245.9"/><path d="M134.6,270.5 L138.6,269.3 L142.8,268.9 L146.0,268.3 L149.3,268.2 L152.6,268.0"/><path d="M131.3,291.8 L136.2,290.2 L140.3,289.9 L144.4,289.3 L148.5,290.3 L152.6,290.7"/><path d="M155.9,291.0 L156.4,295.1 L156.7,299.2 L157.2,303.3 L158.4,307.4 L158.6,311.1 L159.2,314.8"/><path d="M158.9,312.3 L163.1,312.8 L167.4,313.4 L171.1,312.9 L174.8,312.7 L178.5,312.3"/><path d="M238.1,259.8 L241.4,259.5 L244.7,258.9 L247.9,256.8 L251.2,254.8 L253.8,252.9 L256.1,250.7 L259.8,248.0"/><path d="M244.7,258.9 L243.9,263.0 L249.6,264.7 L253.7,265.5 L257.8,266.3 L262.0,267.3 L266.0,268.8 L269.3,268.4 L272.5,268.0 L277.5,268.8 L281.6,272.9 L284.8,277.0 L287.0,279.8"/><path d="M297.1,254.0 L293.7,255.9 L290.6,258.1 L287.3,261.4 L288.1,264.6 L288.1,268.0 L287.4,271.2 L286.5,274.5 L287.0,279.8"/><path d="M238.1,276.1 L241.4,275.7 L244.7,275.3 L247.9,276.5 L251.2,277.0 L254.3,279.0 L257.8,280.2 L261.1,281.8 L264.3,283.5 L266.5,285.9 L269.3,287.6 L271.5,289.9 L274.2,291.7"/><path d="M274.2,291.7 L277.4,289.9 L280.7,288.4 L284.0,288.2 L287.3,288.0 L290.6,287.8 L293.9,288.4 L297.2,287.9 L300.4,286.8 L303.7,287.0 L307.0,286.8 L310.6,285.2"/><path d="M287.0,279.8 L289.8,283.5 L290.6,286.8"/><path d="M274.2,291.7 L270.8,292.2 L267.6,293.4 L264.3,293.5 L261.1,294.2 L256.9,294.8 L252.9,295.8 L249.6,295.6 L246.3,295.8 L240.6,297.5 L238.1,302.4 L235.7,308.1 L234.8,311.4"/><path d="M274.2,291.7 L275.8,294.6 L277.5,297.5 L279.1,302.4 L279.9,307.3 L281.1,310.9"/><path d="M132.0,376.9 L135.6,376.2 L139.3,376.4 L143.4,377.0 L147.5,377.4 L152.8,378.5"/><path d="M121.3,385.1 L120.5,390.8 L122.1,395.7 L119.7,400.7 L119.8,404.0 L118.9,407.2 L118.0,410.6 L116.4,413.8 L111.5,417.0 L108.8,419.3 L106.6,422.0 L104.9,425.2 L108.2,429.3 L111.5,434.3 L109.8,440.0"/><path d="M108.2,429.3 L111.3,427.7 L114.8,426.9 L118.0,426.1 L121.3,426.1 L125.5,426.5 L129.5,427.7 L133.6,426.6"/><path d="M129.5,427.7 L127.9,430.6 L127.0,433.8 L126.2,440.0"/><path d="M119.2,410.0 L117.5,414.9 L114.4,416.8 L111.0,418.2 L108.8,420.6 L106.1,422.3 L105.2,426.4 L107.5,428.7 L110.2,430.5 L113.4,428.0 L119.2,426.4 L124.9,427.2 L128.5,427.2"/><path d="M110.2,430.5 L107.7,436.2 L105.2,440.3 L102.1,441.5 L98.7,442.0 L93.8,441.1"/><path d="M98.7,442.0 L97.0,447.7 L96.3,450.9 L96.2,454.3 L94.6,457.5 L98.7,461.6 L102.0,465.7 L105.2,469.0 L110.2,468.2 L115.9,468.2 L118.2,470.8 L120.8,473.1 L124.1,476.4 L127.3,477.5 L130.7,478.0 L134.7,478.9 L138.9,478.9 L142.1,481.3 L143.8,487.0 L145.3,490.4 L147.0,493.6 L148.7,496.9"/><path d="M110.2,468.2 L107.7,473.9 L106.9,478.9 L109.3,481.6"/><path d="M138.9,478.9 L142.1,474.8 L144.8,472.9 L147.0,470.7 L149.2,468.3 L152.0,466.6 L153.8,463.8 L155.2,460.8 L160.2,457.5 L163.0,455.5 L165.9,453.4 L167.0,448.5 L166.9,445.2 L166.4,442.0"/><path d="M148.7,496.9 L151.9,495.7 L155.2,495.2 L158.6,494.7 L161.8,493.6 L166.7,495.2 L170.0,498.5"/><path d="M148.7,496.9 L143.8,499.3 L142.1,505.1 L147.0,508.9"/><path d="M94.6,480.8 L99.5,478.9 L104.4,477.2 L106.9,478.9"/><path d="M134.6,480.0 L137.7,481.6 L141.1,482.5 L143.6,487.4 L146.9,492.3 L148.5,496.4 L144.4,497.2 L142.0,500.0"/><path d="M148.5,496.4 L154.3,497.2 L159.2,494.8 L164.9,493.1 L166.6,495.6"/><path d="M166.6,495.6 L168.6,499.1 L169.8,503.0 L170.4,506.2 L170.7,509.5 L172.6,513.6 L174.8,517.7 L177.2,523.4 L178.9,527.5"/><path d="M166.6,495.6 L170.2,496.7 L173.9,497.2 L178.0,496.5 L182.1,496.4 L185.4,496.1 L188.7,496.1 L192.0,496.4 L195.3,496.1 L198.5,495.6"/><path d="M188.7,497.2 L190.1,500.2 L192.0,503.0 L192.9,506.2 L193.6,509.5 L198.5,512.0 L201.8,511.1 L203.4,516.1 L202.6,521.0 L204.3,524.3"/><path d="M178.9,527.5 L175.6,528.1 L172.3,528.4 L169.0,528.1 L165.7,527.5 L163.3,530.0 L164.9,532.5"/><path d="M178.9,527.5 L183.8,526.7 L187.8,525.3 L192.0,524.3 L195.2,523.8 L198.5,523.4 L204.3,524.3 L210.0,525.9"/><path d="M183.8,526.7 L185.4,532.5 L188.1,534.2 L190.3,536.6 L190.7,539.8 L191.1,543.1"/><path d="M200.2,522.5 L204.3,524.1 L209.2,523.3 L212.8,522.5"/><path d="M237.0,538.9 L240.3,543.8 L242.0,547.0 L237.0,550.3 L232.1,553.6 L230.9,556.9 L230.5,560.5"/><path d="M242.0,547.0 L245.2,546.6 L248.5,546.2 L251.8,548.7 L256.7,545.4 L260.0,544.6"/><path d="M257.0,555.2 L256.2,559.3 L255.9,563.4 L257.4,566.6 L258.4,570.0"/><path d="M237.2,540.2 L238.9,545.1 L241.3,548.4 L236.4,550.8 L232.3,554.1 L230.7,559.3"/><path d="M241.3,548.4 L246.2,547.5 L250.3,545.1 L252.0,548.4 L257.7,548.4 L261.0,548.1 L264.3,547.5 L269.2,548.4 L273.3,547.5"/><path d="M269.2,548.4 L265.9,552.5 L262.5,553.4 L259.3,554.9 L256.9,560.7 L257.7,565.6 L259.6,568.1 L261.8,570.5 L263.4,575.4"/><path d="M200.0,70.8 L199.6,74.0 L201.5,76.5 L201.2,79.0 L202.8,80.5 L203.3,84.0 L203.3,85.6"/><path d="M199.2,160.2 L202.9,159.8 L206.5,159.4 L210.2,159.0 L214.4,161.5 L216.2,164.4 L217.9,167.5 L220.1,170.1 L218.6,174.5 L216.4,178.7 L215.2,182.4"/><path d="M294.4,95.6 L294.0,100.2 L292.8,104.6 L293.0,108.7 L293.6,112.8 L296.9,117.7 L293.7,120.7 L291.1,124.3 L290.3,129.2 L293.6,134.1 L292.0,137.4 L294.4,140.3 L296.9,143.1 L299.3,145.6 L293.6,147.2"/><path d="M400.0,203.9 L403.5,206.5 L401.6,210.0"/><path d="M169.7,240.0 L170.2,245.9 L169.7,249.8 L166.3,252.3 L165.8,254.7 L168.8,256.7 L171.7,258.2 L173.7,261.1 L171.7,264.6 L167.8,266.1 L161.9,266.5 L158.5,267.8 L155.0,269.0"/><path d="M171.7,258.2 L175.6,255.2 L181.5,254.3"/><path d="M194.8,243.9 L196.3,241.0 L193.3,240.0"/><path d="M206.1,243.0 L206.6,240.0"/><path d="M173.7,261.1 L176.1,264.6 L178.6,267.5 L182.0,269.5 L185.5,271.5"/><path d="M185.5,271.5 L184.0,273.9 L183.5,277.4 L179.6,278.8 L175.6,279.3 L174.2,282.3 L173.2,286.2 L172.7,288.2"/><path d="M172.7,288.2 L168.8,286.2 L164.8,285.7 L160.9,288.2 L157.0,289.2 L155.0,288.2"/><path d="M185.0,253.2 L189.9,252.4 L195.7,252.0 L201.4,254.8 L205.5,255.2 L208.8,254.4 L212.0,253.2 L217.8,251.6 L223.5,249.9 L229.3,249.1 L235.0,248.7"/><path d="M195.7,252.0 L195.2,248.3 L194.5,245.5"/><path d="M195.7,252.0 L196.1,256.5 L197.3,261.4 L198.9,265.5 L199.3,269.6 L201.4,273.7 L202.2,277.0"/><path d="M201.4,254.8 L200.2,257.3 L201.4,260.2 L202.6,258.1 L203.0,255.2"/><path d="M201.4,261.4 L206.3,261.8 L211.2,262.2 L214.5,261.5 L217.8,261.4 L221.5,261.0 L226.0,260.2 L230.9,259.8 L235.0,259.3"/><path d="M211.2,262.2 L209.6,265.5 L207.1,267.1 L203.0,267.5 L199.3,266.7"/><path d="M201.4,273.7 L205.5,274.9 L208.8,273.3 L211.2,271.2 L212.5,273.7 L213.7,272.0 L217.8,272.9 L219.4,270.4 L223.5,269.6 L225.2,269.6"/><path d="M205.5,274.9 L205.1,277.8"/><path d="M212.5,273.7 L212.0,277.0"/><path d="M189.5,264.3 L192.4,263.4 L196.5,264.7 L198.1,266.7 L196.5,268.4 L192.8,268.8 L189.9,267.1 L189.5,264.3"/><path d="M185.0,270.4 L188.3,271.2 L192.4,272.0 L195.7,271.2"/><path d="M188.3,271.2 L187.5,274.5 L189.1,277.0 L188.4,279.3"/><path d="M230.9,258.5 L231.7,254.8 L230.9,249.9 L231.7,245.0"/><path d="M230.5,261.0 L231.3,266.3 L229.3,269.6 L227.6,272.0 L230.9,273.7 L233.4,272.0 L235.0,272.9"/><path d="M227.6,277.8 L229.7,276.1 L230.9,273.7"/><path d="M224.6,245.9 L225.6,249.2 L228.5,249.2 L231.5,248.7"/><path d="M234.4,275.2 L233.4,278.2 L233.9,280.1"/><path d="M309.2,315.1 L313.3,310.2 L317.4,308.5 L319.0,307.5"/></g><path d="M34.1,81.6 L37.4,83.8 L40.4,83.3 L43.4,83.0 L46.4,83.0 L49.9,82.3 L53.4,81.4 L57.0,80.8 L57.0,75.6 L55.6,72.8 L54.6,69.8 L52.1,67.4 L56.2,63.3 L60.3,60.0 L59.5,54.3 L58.7,49.3 L62.8,45.2 L64.4,42.0 L67.4,40.9 L70.2,39.5 L71.6,36.8 L72.3,33.8 L75.8,34.0 L79.2,34.6 L84.1,37.5 L87.9,37.8 L91.8,37.7 L95.6,37.9 L99.5,37.4 L103.2,36.3 L107.0,35.4 L111.1,34.6 L115.2,34.3 L120.0,35.2 L123.3,35.2 L126.6,32.0 L126.7,28.3 L127.4,24.6 L131.5,21.3 L136.4,20.5 L139.9,21.3 L143.0,23.0 L146.2,22.1 L149.5,21.3 L154.4,19.7 L155.2,15.6 L151.1,13.1 L150.3,11.1 L154.4,11.8 L159.3,13.9 L162.6,13.5 L165.9,13.1 L169.2,13.1 L172.5,9.0 L176.6,8.2 L182.3,9.8 L185.6,14.8 L190.5,15.6 L193.8,11.5 L199.5,10.7 L201.6,13.1 L203.6,15.6 L206.6,17.9 L209.3,20.5 L212.6,19.7 L211.0,24.6 L209.8,26.6 L207.1,30.1 L204.9,33.9 L202.5,36.4 L205.7,41.3 L208.0,43.5 L209.8,46.2 L213.9,43.8 L216.9,44.5 L220.0,44.3 L223.0,44.6 L226.3,42.6 L229.5,40.5 L233.6,40.9 L237.7,41.3 L241.0,42.0 L244.3,42.1 L250.0,41.3 L251.6,44.6 L247.5,48.7 L249.2,54.4 L250.1,57.4 L251.6,60.2 L254.9,63.4 L250.8,67.5 L249.9,71.6 L249.2,75.7 L245.2,80.0 L243.8,83.3 L242.3,86.5 L241.1,89.8 L245.2,91.5 L244.6,94.7 L244.8,98.0 L244.4,101.3 L241.8,103.0 L239.2,104.8 L237.0,107.0 L236.2,109.9 L235.4,112.8 L235.2,116.5 L234.6,120.2 L237.4,121.4 L240.0,123.1 L242.8,124.3 L245.6,122.5 L248.5,120.8 L251.0,118.5 L254.4,116.7 L257.5,114.4 L260.4,112.8 L263.5,111.4 L266.6,110.3 L269.5,108.7 L272.5,107.3 L275.6,106.2 L278.9,101.3 L283.0,101.1 L287.0,100.5 L290.0,98.5 L293.3,95.7 L297.4,95.2 L301.5,98.5 L304.6,100.1 L308.0,101.0 L311.2,102.5 L314.6,103.4 L318.7,104.0 L322.8,105.1 L323.6,108.4 L327.7,109.2 L331.1,107.8 L334.3,105.9 L338.4,104.5 L342.5,103.4 L347.4,104.3 L349.4,101.8 L351.5,99.3 L353.9,94.4 L357.3,93.4 L360.5,92.0 L363.0,87.9 L368.7,86.2 L372.8,86.2 L376.9,87.0 L380.0,88.7 L383.4,89.1 L386.6,90.3 L389.8,91.4 L393.1,92.0 L398.0,90.3 L400.6,92.2 L403.0,94.4 L405.9,97.6 L408.7,101.0 L412.8,103.4 L414.9,105.9 L417.0,108.4 L419.3,110.8 L422.3,112.7 L424.9,115.1 L427.5,117.4 L430.8,118.4 L434.1,119.6 L437.4,120.7 L440.4,122.5 L443.1,124.8 L445.6,128.9 L445.1,132.9 L444.8,137.0 L442.3,142.0 L441.8,146.6 L442.2,149.9 L443.4,153.1 L442.7,156.4 L441.8,159.7 L444.6,162.2 L447.5,164.6 L451.0,167.2 L454.1,170.3 L457.4,172.8 L459.0,178.5 L462.3,178.7 L465.6,179.3 L468.8,180.0 L472.2,180.1 L475.4,181.0 L479.5,181.8 L477.0,185.1 L480.3,190.0 L485.2,192.5 L490.2,193.3 L491.0,199.0 L489.8,202.2 L489.3,205.6 L483.6,207.2 L488.5,209.7 L483.6,213.0 L482.7,216.6 L486.2,219.0 L490.1,220.7 L488.3,223.4 L486.0,225.6 L485.2,229.3 L485.2,233.0 L485.2,237.0 L482.8,239.6 L480.2,242.0 L476.0,243.0 L472.0,244.4 L468.7,245.0 L465.5,246.1 L463.9,250.2 L459.8,251.0 L456.5,248.5 L455.7,245.2 L452.4,245.0 L449.1,244.4 L444.2,242.8 L440.9,243.0 L437.6,243.6 L432.7,245.2 L429.4,245.5 L426.1,246.1 L422.9,245.0 L419.6,244.4 L414.7,244.4 L409.8,245.2 L406.5,245.4 L403.2,245.2 L400.0,245.9 L396.7,245.3 L393.4,245.1 L390.2,244.3 L386.9,244.3 L382.0,242.6 L378.7,242.8 L375.4,243.4 L372.1,244.2 L368.9,245.1 L365.6,245.4 L362.3,245.1 L359.0,245.9 L355.7,246.7 L352.5,248.1 L349.2,249.2 L344.3,251.6 L342.6,255.7 L339.3,259.8 L335.2,263.1 L333.0,265.4 L331.1,268.0 L328.2,269.5 L325.4,271.3 L322.3,273.3 L321.5,275.7 L315.7,275.7 L310.0,277.4 L309.2,283.1 L310.0,288.0 L312.0,290.9 L314.1,293.8 L316.4,296.1 L318.2,298.7 L318.5,302.0 L319.0,305.2 L320.5,308.2 L322.3,311.0 L327.2,314.3 L329.9,316.5 L332.1,319.2 L333.8,321.6 L330.5,324.9 L329.7,329.8 L333.0,334.8 L333.9,337.8 L335.4,340.5 L338.7,344.6 L341.1,347.9 L340.3,351.1 L338.8,348.2 L337.0,345.4 L333.8,340.5 L331.5,337.8 L329.7,334.8 L326.4,330.7 L323.1,329.8 L321.5,333.9 L319.8,331.5 L315.7,329.8 L310.8,328.2 L307.5,325.7 L304.3,322.5 L299.3,319.2 L294.4,317.5 L291.3,315.6 L287.9,314.3 L283.0,311.8 L278.9,309.3 L276.1,310.5 L273.1,311.0 L273.1,314.3 L269.8,314.0 L266.6,313.4 L262.0,313.1 L258.7,315.6 L259.5,312.3 L255.8,311.7 L252.1,311.5 L248.8,311.4 L245.6,311.5 L242.3,311.7 L239.0,312.0 L234.1,312.3 L233.3,317.2 L230.8,313.1 L227.5,310.7 L229.2,305.7 L230.8,300.8 L229.2,295.9 L231.6,291.0 L230.0,286.1 L234.1,282.8 L233.3,279.5 L227.5,278.7 L224.3,278.2 L221.0,277.9 L216.9,278.1 L212.8,278.2 L208.7,278.9 L204.6,279.2 L200.5,279.6 L196.4,279.5 L192.0,280.3 L188.7,281.1 L185.4,281.1 L182.1,283.6 L178.9,287.7 L180.5,291.8 L182.8,294.0 L185.4,295.9 L182.1,300.0 L180.5,304.1 L179.5,307.3 L178.9,310.7 L178.0,315.6 L178.8,318.9 L179.7,322.1 L180.3,325.5 L181.3,328.7 L179.3,331.2 L177.2,333.6 L174.9,336.2 L172.3,338.5 L171.1,341.7 L169.7,344.9 L167.0,347.1 L164.8,349.8 L163.5,353.3 L161.5,356.4 L159.4,359.7 L157.4,363.0 L156.4,365.9 L154.9,368.7 L152.5,372.8 L151.8,376.0 L151.6,379.3 L149.7,381.9 L147.5,384.3 L145.6,386.8 L143.4,389.2 L141.4,392.1 L139.3,394.9 L136.9,399.8 L136.0,402.7 L135.2,405.6 L134.2,408.8 L133.6,412.1 L133.7,415.4 L133.6,418.7 L133.3,423.0 L134.7,427.2 L136.6,431.1 L139.3,434.6 L141.5,438.5 L137.4,441.8 L139.8,445.1 L143.1,444.9 L146.4,445.1 L150.4,443.9 L154.6,443.4 L158.6,442.3 L162.8,441.8 L168.5,441.8 L171.8,443.4 L174.3,448.4 L174.9,452.1 L175.9,455.7 L176.1,459.8 L176.7,463.9 L178.2,467.1 L179.2,470.5 L184.1,473.8 L187.4,478.7 L189.8,477.0 L188.2,473.0 L191.5,474.6 L193.4,477.3 L194.8,480.3 L196.1,484.4 L197.2,488.5 L198.0,492.4 L199.3,496.2 L200.3,500.4 L201.8,504.4 L203.0,507.2 L204.5,509.9 L205.9,512.6 L207.8,515.2 L209.2,518.0 L210.8,520.8 L213.9,523.9 L216.6,527.4 L219.8,530.3 L223.1,533.1 L226.6,534.4 L229.8,536.1 L233.1,537.7 L236.4,537.6 L239.7,538.0 L243.8,536.9 L247.9,536.3 L250.3,534.8 L253.6,535.8 L259.3,536.9 L265.1,537.7 L269.2,541.8 L271.5,544.8 L274.1,547.5 L277.7,550.1 L280.7,553.3 L283.8,555.6 L287.2,557.4 L290.3,559.7 L293.8,561.5 L295.4,564.8 L292.7,566.5 L290.5,568.9 L288.1,571.4 L285.6,573.8 L283.1,577.4 L280.7,581.1 L275.7,579.5 L270.8,577.0 L267.5,573.0 L263.4,575.4 L257.7,577.0 L252.8,578.7 L250.3,580.7 L247.9,582.8 L244.6,585.2 L240.5,582.8 L238.1,580.3 L235.6,577.9 L238.0,575.7 L239.7,573.0 L242.1,568.9 L239.7,564.8 L241.3,561.5 L236.4,559.8 L231.5,559.8 L227.4,560.7 L226.6,555.7 L223.3,552.5 L217.4,552.0 L213.3,551.0 L209.2,550.3 L205.1,549.7 L201.0,548.7 L198.3,545.6 L195.2,543.0 L191.1,542.1 L188.7,547.0 L186.2,552.1 L184.1,549.7 L182.1,547.2 L178.9,544.7 L175.6,542.3 L172.4,540.1 L169.0,538.2 L166.3,536.5 L164.1,534.1 L164.3,530.8 L164.1,527.5 L159.2,524.3 L155.9,519.3 L152.6,518.0 L149.3,516.9 L146.8,514.0 L144.4,511.1 L143.2,507.8 L142.0,504.6 L139.1,503.0 L136.2,501.3 L132.8,499.9 L129.7,498.0 L124.8,494.8 L120.8,491.1 L115.9,492.0 L111.8,488.7 L110.2,483.0 L106.9,479.7 L102.8,478.9 L97.9,479.7 L95.4,482.1 L94.6,486.2 L93.8,489.1 L93.0,492.0 L93.0,495.7 L92.1,499.3 L88.0,502.6 L86.4,498.5 L86.0,495.2 L85.6,492.0 L86.1,488.7 L86.4,485.4 L85.1,482.2 L83.9,478.9 L83.6,475.6 L83.1,472.3 L83.9,467.4 L85.2,464.2 L85.6,460.8 L86.4,457.6 L86.4,454.3 L86.9,450.9 L88.0,447.7 L89.9,445.0 L91.3,442.0 L93.0,439.2 L94.6,436.2 L95.9,432.8 L97.9,429.7 L99.0,426.4 L100.3,423.1 L101.3,419.8 L102.8,416.6 L104.9,412.1 L108.2,407.2 L109.5,404.2 L111.5,401.5 L112.7,398.6 L113.9,395.7 L113.1,390.8 L116.4,386.7 L121.3,384.3 L125.4,380.2 L129.5,377.7 L134.4,375.2 L138.0,372.6 L141.0,369.5 L142.1,366.6 L143.4,363.8 L146.2,361.1 L148.4,358.0 L150.6,355.3 L152.5,352.3 L156.6,349.8 L159.0,344.9 L157.5,341.8 L156.4,338.6 L155.9,335.2 L151.8,331.1 L151.0,325.4 L147.7,320.5 L148.5,314.8 L145.8,312.5 L142.8,310.7 L140.0,308.6 L137.0,306.6 L135.7,303.5 L133.8,300.8 L130.5,295.9 L131.3,291.8 L135.4,289.3 L136.0,285.2 L136.2,281.1 L135.9,277.8 L135.0,274.6 L134.6,271.3 L133.0,268.0 L130.7,265.4 L128.0,263.1 L124.8,260.0 L123.0,257.3 L120.7,255.1 L117.5,253.2 L114.1,251.8 L110.0,250.2 L105.9,248.5 L103.2,245.9 L100.2,243.6 L97.3,240.3 L94.4,237.0 L92.0,235.1 L89.8,233.0 L87.9,230.5 L85.9,227.8 L84.6,224.8 L82.7,221.2 L81.3,217.4 L81.3,212.5 L86.2,209.2 L89.8,207.7 L93.6,206.7 L97.3,205.9 L101.0,205.1 L101.6,201.4 L101.8,197.7 L100.2,192.8 L101.8,189.5 L103.4,186.2 L101.8,180.5 L104.6,178.8 L107.5,177.2 L110.6,176.8 L113.5,176.0 L116.6,175.6 L118.6,173.1 L120.7,170.7 L119.8,165.7 L114.1,166.6 L111.1,168.5 L108.4,170.7 L107.5,167.4 L106.7,164.1 L102.6,160.0 L100.5,158.7 L98.2,155.6 L96.4,152.1 L98.0,147.2 L95.8,144.5 L93.1,142.3 L90.3,140.9 L87.4,139.8 L84.9,137.4 L82.5,134.9 L80.2,132.8 L78.1,130.5 L75.9,128.4 L72.7,125.8 L69.3,123.4 L65.9,121.1 L62.8,118.5 L59.2,116.0 L56.2,112.8 L52.1,108.7 L55.4,104.6 L53.1,101.9 L51.3,98.9 L49.1,95.1 L46.4,91.5 L42.3,92.3 L40.0,89.2 L38.2,85.7Z" fill="none" stroke="#000" stroke-width="1.2" stroke-linejoin="round"/><path d="M305.1,331.5 L309.2,329.8 L314.1,333.1 L314.9,337.2 L310.8,338.9 L306.7,336.4Z" fill="#fff" stroke="#000" stroke-width="0.9" stroke-linejoin="round"/><path d="M319.8,349.5 L322.3,347.0 L324.8,350.3 L323.1,354.4 L320.3,352.8Z" fill="#fff" stroke="#000" stroke-width="0.9" stroke-linejoin="round"/><path d="M313.1,341.3 L312.0,341.5 L311.0,340.9 L311.3,340.1 L311.9,339.7 L312.6,340.3Z" fill="#333" stroke="#000" stroke-width="0.6" stroke-linejoin="round"/><path d="M314.5,342.8 L314.5,341.8 L315.1,341.3 L315.8,341.3 L315.3,342.2Z" fill="#333" stroke="#000" stroke-width="0.6" stroke-linejoin="round"/><path d="M317.2,344.4 L316.8,343.8 L317.3,343.2 L317.6,343.8Z" fill="#333" stroke="#000" stroke-width="0.6" stroke-linejoin="round"/><path d="M311.8,344.9 L312.2,343.6 L313.3,342.6 L313.7,343.7 L313.1,344.6Z" fill="#333" stroke="#000" stroke-width="0.6" stroke-linejoin="round"/><path d="M319.9,343.5 L319.5,342.7 L319.8,342.2 L320.2,342.6Z" fill="#333" stroke="#000" stroke-width="0.6" stroke-linejoin="round"/><path d="M316.8,346.6 L316.1,346.7 L315.8,346.1 L316.5,345.7Z" fill="#333" stroke="#000" stroke-width="0.6" stroke-linejoin="round"/><path d="M185.5,425.2 L183.5,427.1 L180.8,427.9 L177.7,426.7 L178.0,423.8 L180.8,422.6 L183.7,423.1Z" fill="#fff" stroke="#000" stroke-width="0.9" stroke-linejoin="round"/><path d="M185.2,434.7 L184.3,437.9 L180.0,437.3 L176.0,436.4 L175.8,432.9 L179.7,431.2 L184.3,431.5Z" fill="#ffff00" stroke="#000" stroke-width="0.9" stroke-linejoin="round"/><path d="M170.6,411.7 L170.0,411.4 L170.6,410.9 L171.0,410.8 L171.5,411.2 L171.1,411.7Z" fill="#333" stroke="#000" stroke-width="0.6" stroke-linejoin="round"/><path d="M221.6,477.9 L220.9,477.7 L220.5,477.1 L221.3,477.2Z" fill="#333" stroke="#000" stroke-width="0.6" stroke-linejoin="round"/><path d="M160.5,542.5 L163.2,544.0 L164.2,548.5 L162.5,551.5 L159.8,550.5 L159.2,546.0Z" fill="#ffff00" stroke="#000" stroke-width="0.9" stroke-linejoin="round"/><path d="M128.0,502.5 L131.5,503.0 L133.4,507.0 L132.5,511.5 L129.5,513.0 L127.0,510.0 L126.6,506.0Z" fill="#ffff00" stroke="#000" stroke-width="0.9" stroke-linejoin="round"/><path d="M136.5,549.5 L135.6,550.5 L133.3,550.2 L133.8,549.0 L135.5,548.6Z" fill="#222" stroke="#000" stroke-width="0.5" stroke-linejoin="round"/><path d="M139.4,549.0 L138.0,549.9 L136.2,549.5 L136.0,548.4 L138.1,548.0Z" fill="#222" stroke="#000" stroke-width="0.5" stroke-linejoin="round"/><path d="M141.5,550.5 L140.6,551.5 L138.5,551.1 L138.4,549.9 L140.5,549.6Z" fill="#222" stroke="#000" stroke-width="0.5" stroke-linejoin="round"/><path d="M144.3,551.0 L143.0,551.8 L141.3,551.5 L141.3,550.5 L143.1,550.0Z" fill="#222" stroke="#000" stroke-width="0.5" stroke-linejoin="round"/><path d="M225.3,293.2 L224.3,293.6 L224.4,292.6 L225.0,292.1 L225.8,292.4Z" fill="#333" stroke="#000" stroke-width="0.6" stroke-linejoin="round"/><path d="M218.1,301.9 L217.0,302.0 L216.5,301.5 L217.2,301.3Z" fill="#333" stroke="#000" stroke-width="0.6" stroke-linejoin="round"/><path d="M223.1,302.4 L222.9,301.8 L223.4,301.5 L223.7,301.7 L223.6,302.1Z" fill="#333" stroke="#000" stroke-width="0.6" stroke-linejoin="round"/><path d="M220.2,306.0 L219.6,306.6 L219.0,306.1 L219.0,305.1 L220.0,304.9Z" fill="#fff" stroke="#000" stroke-width="0.6" stroke-linejoin="round"/><path d="M223.6,310.9 L221.9,311.0 L221.9,309.7 L223.4,309.2 L224.5,309.7Z" fill="#333" stroke="#000" stroke-width="0.6" stroke-linejoin="round"/><path d="M228.4,311.7 L227.9,312.1 L227.2,312.0 L226.8,311.3 L227.5,310.8 L228.6,310.7Z" fill="#333" stroke="#000" stroke-width="0.6" stroke-linejoin="round"/><path d="M49.6,467.3 L49.5,466.6 L50.4,466.6 L50.9,466.9 L50.1,467.6Z" fill="#333" stroke="#000" stroke-width="0.6" stroke-linejoin="round"/><path d="M49.6,469.9 L49.5,469.1 L50.3,468.7 L50.7,469.5 L50.3,469.9Z" fill="#333" stroke="#000" stroke-width="0.6" stroke-linejoin="round"/><path d="M49.7,472.7 L49.3,471.9 L50.1,471.3 L50.8,471.5 L50.4,472.4Z" fill="#333" stroke="#000" stroke-width="0.6" stroke-linejoin="round"/><path d="M49.5,474.7 L49.8,473.8 L50.7,474.3 L50.3,475.0Z" fill="#333" stroke="#000" stroke-width="0.6" stroke-linejoin="round"/><path d="M92.0,419.6 L91.8,418.0 L93.9,416.9 L95.1,419.0 L93.3,420.4Z" fill="#fff" stroke="#000" stroke-width="0.6" stroke-linejoin="round"/><path d="M96.1,421.5 L95.4,422.8 L94.1,421.5 L93.6,420.1 L95.9,420.2Z" fill="#fff" stroke="#000" stroke-width="0.6" stroke-linejoin="round"/><path d="M96.4,419.7 L96.3,418.9 L97.3,418.9 L97.3,420.0Z" fill="#333" stroke="#000" stroke-width="0.6" stroke-linejoin="round"/><path d="M97.4,422.3 L97.3,421.0 L98.5,420.6 L98.4,421.7Z" fill="#fff" stroke="#000" stroke-width="0.6" stroke-linejoin="round"/><path d="M95.2,424.9 L95.3,424.1 L96.2,424.4 L96.9,424.6 L96.5,425.3 L95.7,425.3Z" fill="#333" stroke="#000" stroke-width="0.6" stroke-linejoin="round"/><path d="M94.3,428.6 L93.1,427.9 L93.4,426.3 L94.7,427.2Z" fill="#333" stroke="#000" stroke-width="0.6" stroke-linejoin="round"/><path d="M96.2,428.4 L96.4,427.7 L97.3,427.4 L97.7,428.0 L97.6,428.8 L96.5,429.5Z" fill="#333" stroke="#000" stroke-width="0.6" stroke-linejoin="round"/><path d="M96.3,431.6 L94.8,430.9 L95.9,429.8 L96.8,430.5Z" fill="#fff" stroke="#000" stroke-width="0.6" stroke-linejoin="round"/><path d="M94.1,434.0 L92.6,432.5 L93.8,431.3 L95.1,432.3Z" fill="#fff" stroke="#000" stroke-width="0.6" stroke-linejoin="round"/><path d="M95.8,436.7 L94.5,436.0 L95.2,434.2 L96.7,434.4 L97.3,436.2Z" fill="#fff" stroke="#000" stroke-width="0.6" stroke-linejoin="round"/><path d="M91.7,436.5 L90.1,436.4 L90.4,434.8 L92.0,435.1Z" fill="#333" stroke="#000" stroke-width="0.6" stroke-linejoin="round"/><path d="M89.3,433.6 L88.6,432.9 L89.4,432.2 L90.0,433.0Z" fill="#333" stroke="#000" stroke-width="0.6" stroke-linejoin="round"/><path d="M100.0,417.2 L98.8,417.2 L98.1,416.2 L99.2,414.9 L100.8,415.6Z" fill="#fff" stroke="#000" stroke-width="0.6" stroke-linejoin="round"/><path d="M99.1,420.9 L99.5,419.4 L100.4,419.1 L100.4,420.1Z" fill="#333" stroke="#000" stroke-width="0.6" stroke-linejoin="round"/><path d="M84.6,446.2 L83.9,446.5 L83.2,446.1 L82.8,445.4 L83.5,445.1 L84.3,445.4Z" fill="#333" stroke="#000" stroke-width="0.6" stroke-linejoin="round"/><path d="M86.3,447.4 L85.7,447.8 L85.1,447.4 L85.5,446.7 L86.1,446.0 L86.7,446.7Z" fill="#333" stroke="#000" stroke-width="0.6" stroke-linejoin="round"/><path d="M82.2,449.0 L83.1,448.0 L85.1,447.9 L83.5,449.1Z" fill="#fff" stroke="#000" stroke-width="0.6" stroke-linejoin="round"/><path d="M85.8,452.5 L86.0,451.1 L86.5,449.7 L87.1,450.2 L86.9,451.7Z" fill="#333" stroke="#000" stroke-width="0.6" stroke-linejoin="round"/><path d="M83.9,453.5 L84.3,452.1 L86.0,452.0 L85.7,454.1Z" fill="#fff" stroke="#000" stroke-width="0.6" stroke-linejoin="round"/><path d="M88.2,453.0 L89.1,452.6 L89.5,453.0 L89.1,453.7Z" fill="#333" stroke="#000" stroke-width="0.6" stroke-linejoin="round"/><path d="M86.7,456.4 L85.7,456.8 L85.3,455.8 L85.7,455.2 L86.6,455.5Z" fill="#333" stroke="#000" stroke-width="0.6" stroke-linejoin="round"/><path d="M83.4,454.8 L81.9,454.4 L81.6,451.9 L83.7,453.2Z" fill="#fff" stroke="#000" stroke-width="0.6" stroke-linejoin="round"/><path d="M90.1,457.1 L89.3,457.3 L89.0,456.3 L89.3,455.4 L90.1,456.5Z" fill="#333" stroke="#000" stroke-width="0.6" stroke-linejoin="round"/><path d="M84.8,458.6 L84.8,457.7 L85.9,457.3 L85.6,458.3Z" fill="#333" stroke="#000" stroke-width="0.6" stroke-linejoin="round"/><path d="M87.3,448.9 L86.2,449.2 L85.8,448.4 L86.4,447.6 L87.5,447.0 L88.1,447.9Z" fill="#fff" stroke="#000" stroke-width="0.6" stroke-linejoin="round"/><path d="M87.0,451.2 L87.2,450.1 L88.1,449.9 L87.9,450.8Z" fill="#333" stroke="#000" stroke-width="0.6" stroke-linejoin="round"/><path d="M99.5,481.0 L101.0,481.5 L101.5,487.0 L100.8,494.0 L99.3,496.5 L98.6,490.0 L99.0,484.0Z" fill="#fff" stroke="#000" stroke-width="0.8" stroke-linejoin="round"/><path d="M102.5,482.5 L104.0,483.5 L104.2,489.0 L103.2,492.0 L102.3,488.0Z" fill="#fff" stroke="#000" stroke-width="0.8" stroke-linejoin="round"/><path d="M96.7,485.7 L95.8,485.4 L95.8,484.3 L96.1,483.5 L96.9,483.7 L97.1,484.9Z" fill="#333" stroke="#000" stroke-width="0.6" stroke-linejoin="round"/><path d="M96.0,492.1 L96.9,490.9 L98.3,491.0 L97.5,492.2Z" fill="#333" stroke="#000" stroke-width="0.6" stroke-linejoin="round"/><path d="M105.6,486.7 L104.9,486.1 L105.5,485.2 L106.1,485.5 L106.2,486.2Z" fill="#333" stroke="#000" stroke-width="0.6" stroke-linejoin="round"/><path d="M107.4,490.8 L105.9,490.7 L105.9,489.4 L106.5,488.2 L107.7,488.9 L108.5,489.8Z" fill="#fff" stroke="#000" stroke-width="0.6" stroke-linejoin="round"/><path d="M105.3,495.6 L104.6,495.8 L104.1,495.5 L104.6,495.0 L105.1,494.8Z" fill="#333" stroke="#000" stroke-width="0.6" stroke-linejoin="round"/><path d="M108.2,494.0 L108.1,493.2 L108.9,492.8 L109.1,493.7Z" fill="#333" stroke="#000" stroke-width="0.6" stroke-linejoin="round"/><path d="M96.5,499.0 L95.2,497.1 L96.2,495.1 L98.1,496.9Z" fill="#fff" stroke="#000" stroke-width="0.6" stroke-linejoin="round"/><path d="M91.0,503.9 L91.1,503.0 L92.5,501.6 L93.2,502.4 L91.9,504.2Z" fill="#fff" stroke="#000" stroke-width="0.6" stroke-linejoin="round"/><path d="M88.5,508.9 L87.3,509.2 L87.1,507.7 L88.3,508.0Z" fill="#333" stroke="#000" stroke-width="0.6" stroke-linejoin="round"/><path d="M85.8,515.0 L86.2,513.9 L86.8,513.5 L87.7,513.7 L87.0,514.8Z" fill="#333" stroke="#000" stroke-width="0.6" stroke-linejoin="round"/><path d="M112.3,500.7 L111.1,501.2 L110.6,500.3 L110.9,499.1 L112.2,499.2Z" fill="#333" stroke="#000" stroke-width="0.6" stroke-linejoin="round"/><path d="M113.3,506.0 L112.5,506.5 L111.3,506.3 L111.2,505.4 L111.7,504.7 L112.6,505.4Z" fill="#333" stroke="#000" stroke-width="0.6" stroke-linejoin="round"/><path d="M112.6,504.4 L111.9,504.2 L111.4,503.7 L111.9,503.2 L112.6,502.9 L112.7,503.7Z" fill="#333" stroke="#000" stroke-width="0.6" stroke-linejoin="round"/><path d="M127.8,524.6 L128.0,523.7 L129.1,522.8 L130.7,522.6 L130.4,524.0 L128.8,524.7Z" fill="#fff" stroke="#000" stroke-width="0.6" stroke-linejoin="round"/><path d="M136.8,517.9 L136.9,516.9 L137.8,516.9 L137.9,517.8Z" fill="#333" stroke="#000" stroke-width="0.6" stroke-linejoin="round"/><path d="M138.5,521.4 L137.5,520.0 L138.7,518.2 L139.8,520.1Z" fill="#333" stroke="#000" stroke-width="0.6" stroke-linejoin="round"/><path d="M149.0,522.9 L148.0,522.5 L147.8,521.5 L148.9,521.8Z" fill="#333" stroke="#000" stroke-width="0.6" stroke-linejoin="round"/><path d="M150.8,532.4 L149.9,532.1 L149.1,531.1 L149.7,530.5 L150.4,530.8 L151.1,531.6Z" fill="#333" stroke="#000" stroke-width="0.6" stroke-linejoin="round"/><path d="M157.2,528.4 L156.4,528.7 L156.3,528.0 L156.6,527.3 L157.7,527.2 L157.6,527.9Z" fill="#333" stroke="#000" stroke-width="0.6" stroke-linejoin="round"/><path d="M155.5,533.9 L155.9,532.4 L156.9,532.4 L156.9,533.3Z" fill="#333" stroke="#000" stroke-width="0.6" stroke-linejoin="round"/><path d="M154.9,539.1 L153.5,539.3 L153.7,537.5 L155.4,537.9Z" fill="#fff" stroke="#000" stroke-width="0.6" stroke-linejoin="round"/><path d="M150.1,549.1 L149.2,549.5 L148.3,548.3 L149.1,547.8 L150.0,548.3Z" fill="#fff" stroke="#000" stroke-width="0.6" stroke-linejoin="round"/><path d="M145.8,512.5 L144.6,512.4 L144.5,510.9 L145.7,510.6 L146.6,511.0 L147.0,512.3Z" fill="#fff" stroke="#000" stroke-width="0.6" stroke-linejoin="round"/><path d="M141.8,515.8 L142.6,514.9 L143.9,515.1 L143.5,515.9 L142.6,516.6Z" fill="#333" stroke="#000" stroke-width="0.6" stroke-linejoin="round"/><path d="M134.1,511.4 L133.8,510.5 L134.4,509.4 L135.1,509.7 L135.3,511.3Z" fill="#fff" stroke="#000" stroke-width="0.6" stroke-linejoin="round"/><path d="M123.8,499.1 L123.1,498.0 L124.4,496.6 L124.8,498.4Z" fill="#fff" stroke="#000" stroke-width="0.6" stroke-linejoin="round"/><path d="M118.7,496.5 L117.5,495.6 L117.1,494.2 L118.5,493.8 L119.8,494.0 L119.6,495.3Z" fill="#333" stroke="#000" stroke-width="0.6" stroke-linejoin="round"/><path d="M168.5,541.9 L167.2,541.3 L167.7,540.1 L168.5,539.5 L169.5,539.9 L169.8,541.2Z" fill="#fff" stroke="#000" stroke-width="0.6" stroke-linejoin="round"/><path d="M170.3,544.2 L169.5,543.9 L169.5,543.2 L170.2,543.1 L170.7,543.2 L170.9,543.7Z" fill="#333" stroke="#000" stroke-width="0.6" stroke-linejoin="round"/><path d="M172.8,543.0 L171.9,543.4 L171.4,543.1 L171.6,542.2 L172.5,541.7 L172.9,542.1Z" fill="#333" stroke="#000" stroke-width="0.6" stroke-linejoin="round"/><path d="M174.7,546.7 L173.9,546.8 L173.6,546.0 L174.4,545.5 L175.1,546.0Z" fill="#333" stroke="#000" stroke-width="0.6" stroke-linejoin="round"/><path d="M176.9,545.7 L176.1,544.8 L176.3,544.1 L176.9,544.5Z" fill="#333" stroke="#000" stroke-width="0.6" stroke-linejoin="round"/><path d="M177.1,548.7 L177.3,547.8 L177.9,548.0 L178.4,549.1 L177.6,549.6Z" fill="#333" stroke="#000" stroke-width="0.6" stroke-linejoin="round"/><path d="M171.3,549.5 L171.6,547.9 L172.6,547.1 L172.6,548.5Z" fill="#fff" stroke="#000" stroke-width="0.6" stroke-linejoin="round"/><path d="M146.9,391.2 L146.3,390.4 L147.5,389.7 L147.8,390.9Z" fill="#333" stroke="#000" stroke-width="0.6" stroke-linejoin="round"/><path d="M142.5,396.0 L142.9,395.2 L143.8,395.4 L143.8,396.0 L143.8,396.7 L142.9,396.7Z" fill="#333" stroke="#000" stroke-width="0.6" stroke-linejoin="round"/><path d="M140.8,401.2 L140.1,400.9 L139.5,400.2 L140.0,400.0 L140.7,400.4Z" fill="#333" stroke="#000" stroke-width="0.6" stroke-linejoin="round"/><path d="M138.4,404.2 L137.3,403.6 L138.2,403.0 L139.6,403.1 L139.2,404.1Z" fill="#333" stroke="#000" stroke-width="0.6" stroke-linejoin="round"/><path d="M136.8,409.1 L136.1,408.4 L136.3,407.4 L136.8,408.2Z" fill="#333" stroke="#000" stroke-width="0.6" stroke-linejoin="round"/><path d="M150.2,387.8 L148.9,387.8 L148.1,386.7 L149.5,386.7Z" fill="#333" stroke="#000" stroke-width="0.6" stroke-linejoin="round"/><path d="M154.8,373.2 L154.3,372.6 L155.1,372.5 L155.7,373.3Z" fill="#333" stroke="#000" stroke-width="0.6" stroke-linejoin="round"/><path d="M167.5,352.6 L167.2,351.6 L168.3,351.0 L169.1,351.7 L168.3,352.6Z" fill="#333" stroke="#000" stroke-width="0.6" stroke-linejoin="round"/><text transform="translate(161.5,326.5) scale(1.28,1) rotate(90) scale(0.86,1)" font-family="Liberation Sans, sans-serif" font-style="italic" font-size="14" text-anchor="middle" y="5" fill="#000">32</text><text transform="translate(137,383.4) scale(1.28,1) rotate(-45) scale(0.86,1)" font-family="Liberation Sans, sans-serif" font-style="italic" font-size="14" text-anchor="middle" y="5" fill="#000">32</text><text transform="translate(141,229) scale(1.28,1) rotate(90) scale(0.86,1)" font-family="Liberation Sans, sans-serif" font-style="italic" font-size="14" text-anchor="middle" y="5" fill="#000">32</text><text transform="translate(193,78) scale(1.28,1) rotate(55) scale(0.86,1)" font-family="Liberation Sans, sans-serif" font-style="italic" font-size="14" text-anchor="middle" y="5" fill="#000">32</text><text transform="translate(283,160) scale(1.28,1) rotate(-78) scale(0.86,1)" font-family="Liberation Sans, sans-serif" font-style="italic" font-size="14" text-anchor="middle" y="5" fill="#000">32</text><text transform="translate(295.2,282.4) scale(1.28,1) rotate(-4) scale(0.86,1)" font-family="Liberation Sans, sans-serif" font-style="italic" font-size="14" text-anchor="middle" y="5" fill="#000">32</text><text transform="translate(205.5,528.6) scale(1.28,1) rotate(30) scale(0.86,1)" font-family="Liberation Sans, sans-serif" font-style="italic" font-size="14" text-anchor="middle" y="5" fill="#000">32</text><text transform="translate(214.5,185.8) scale(1.28,1) rotate(12) scale(0.86,1)" font-family="Liberation Sans, sans-serif" font-style="italic" font-size="14" text-anchor="middle" y="5" fill="#000">40</text><g stroke="#000" fill="none"><rect x="34.4" y="7.8" width="457.1" height="577.8" stroke-width="1.3"/><path d="M23.5,25.5 H34 M491.6,25.5 H502" stroke-width="1"/><path d="M23.5,103.5 H34 M491.6,103.5 H502" stroke-width="1"/><path d="M23.5,181.5 H34 M491.6,181.5 H502" stroke-width="1"/><path d="M23.5,259.5 H34 M491.6,259.5 H502" stroke-width="1"/><path d="M23.5,337.5 H34 M491.6,337.5 H502" stroke-width="1"/><path d="M23.5,415.5 H34 M491.6,415.5 H502" stroke-width="1"/><path d="M23.5,493.5 H34 M491.6,493.5 H502" stroke-width="1"/><path d="M23.5,571.2 H34 M491.6,571.2 H502" stroke-width="1"/><path d="M70.2,0 V7.5 M70.2,585.5 V593.3" stroke-width="1"/><path d="M180.5,0 V7.5 M180.5,585.5 V593.3" stroke-width="1"/><path d="M291,0 V7.5 M291,585.5 V593.3" stroke-width="1"/><path d="M401.5,0 V7.5 M401.5,585.5 V593.3" stroke-width="1"/></g><rect x="559.3" y="104.1" width="34.5" height="96.2" fill="#ff2200"/><rect x="559.3" y="200.3" width="34.5" height="96.8" fill="#ff9900"/><rect x="559.3" y="297.1" width="34.5" height="96.2" fill="#ffff00"/><rect x="559.3" y="393.3" width="34.5" height="96.1" fill="#99cc00"/><g stroke="#000" stroke-width="0.9" fill="none"><rect x="559.3" y="104.1" width="34.5" height="385.3"/><path d="M559.3,200.3 H593.8 M559.3,297.1 H593.8 M559.3,393.3 H593.8"/></g></svg>
<div class="t" style="right:600.0px;top:18.3px;transform-origin:right center">20</div><div class="t" style="right:600.0px;top:96.3px;transform-origin:right center">18</div><div class="t" style="right:600.0px;top:174.3px;transform-origin:right center">16</div><div class="t" style="right:600.0px;top:252.3px;transform-origin:right center">14</div><div class="t" style="right:600.0px;top:330.3px;transform-origin:right center">12</div><div class="t" style="right:600.0px;top:408.3px;transform-origin:right center">10</div><div class="t" style="right:600.0px;top:486.3px;transform-origin:right center">8</div><div class="t" style="right:600.0px;top:564.0px;transform-origin:right center">6</div><div class="t" style="left:39.5px;width:60px;text-align:center;top:594px;transform-origin:center center">98</div><div class="t" style="left:149.8px;width:60px;text-align:center;top:594px;transform-origin:center center">100</div><div class="t" style="left:260.3px;width:60px;text-align:center;top:594px;transform-origin:center center">102</div><div class="t" style="left:370.8px;width:60px;text-align:center;top:594px;transform-origin:center center">104</div><div class="t" style="left:597.9px;top:192.9px;transform-origin:left center">54</div><div class="t" style="left:597.9px;top:289.70000000000005px;transform-origin:left center">40</div><div class="t" style="left:597.9px;top:385.90000000000003px;transform-origin:left center">32</div><div class="t" style="left:597.9px;top:481.6px;transform-origin:left center">0</div>
</body></html>
